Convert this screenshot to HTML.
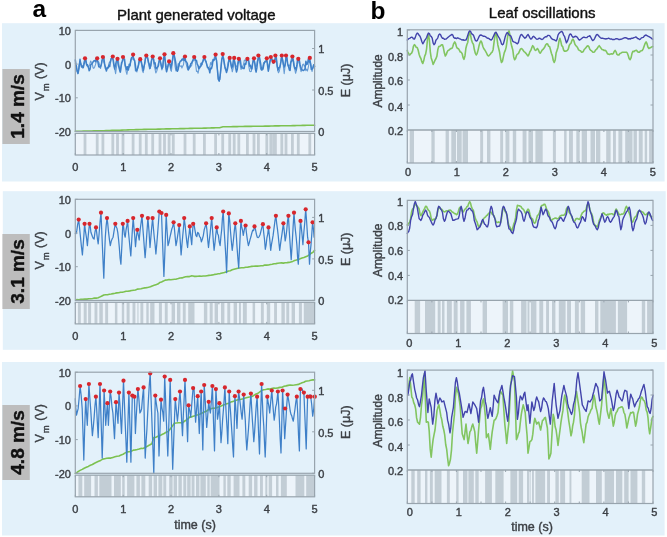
<!DOCTYPE html>
<html><head><meta charset="utf-8"><style>html,body{margin:0;padding:0;background:#fff;width:667px;height:537px;overflow:hidden}</style></head>
<body><svg width="667" height="537" viewBox="0 0 667 537" font-family='"Liberation Sans", sans-serif' style="display:block;filter:blur(0.3px)">
<style>text{stroke-width:0.4px;stroke-linejoin:round}</style>
<rect x="0" y="0" width="667" height="537" fill="#ffffff"/>
<rect x="2" y="23.2" width="662.6" height="158.3" fill="#e3f1fa"/>
<rect x="2.8" y="191.2" width="662.9" height="158.6" fill="#e3f1fa"/>
<rect x="2" y="362" width="662.6" height="173.5" fill="#e3f1fa"/>
<text x="32.5" y="16.8" font-size="24.5" text-anchor="start" fill="#000"  font-weight="bold" >a</text>
<text x="370.4" y="18.8" font-size="24.5" text-anchor="start" fill="#000"  font-weight="bold" >b</text>
<text x="196.3" y="20" font-size="15" text-anchor="middle" fill="#111" stroke="#111" stroke-width="0.3" font-weight="normal" >Plant generated voltage</text>
<text x="542.2" y="18.3" font-size="15" text-anchor="middle" fill="#111" stroke="#111" stroke-width="0.3" font-weight="normal" >Leaf oscillations</text>
<rect x="2.4" y="69" width="27.4" height="75" fill="#bdbdbd"/>
<text transform="translate(23.8,106.5) rotate(-90)" font-size="19" font-weight="bold" text-anchor="middle" fill="#111" stroke="#111">1.4 m/s</text>
<rect x="75.3" y="133.4" width="239.3" height="21.6" fill="#edf4fa"/>
<rect x="83.6" y="133.4" width="2.8" height="21.6" fill="#c2cdd5"/>
<rect x="95.8" y="133.4" width="2.8" height="21.6" fill="#c2cdd5"/>
<rect x="101.5" y="133.4" width="2.8" height="21.6" fill="#c2cdd5"/>
<rect x="111.4" y="133.4" width="2.8" height="21.6" fill="#c2cdd5"/>
<rect x="116.1" y="133.4" width="2.8" height="21.6" fill="#c2cdd5"/>
<rect x="121.6" y="133.4" width="2.8" height="21.6" fill="#c2cdd5"/>
<rect x="131.7" y="133.4" width="2.8" height="21.6" fill="#c2cdd5"/>
<rect x="138.8" y="133.4" width="2.8" height="21.6" fill="#c2cdd5"/>
<rect x="144.9" y="133.4" width="2.8" height="21.6" fill="#c2cdd5"/>
<rect x="151.3" y="133.4" width="2.8" height="21.6" fill="#c2cdd5"/>
<rect x="158.6" y="133.4" width="2.8" height="21.6" fill="#c2cdd5"/>
<rect x="163.1" y="133.4" width="2.8" height="21.6" fill="#c2cdd5"/>
<rect x="167.7" y="133.4" width="2.8" height="21.6" fill="#c2cdd5"/>
<rect x="171.9" y="133.4" width="2.8" height="21.6" fill="#c2cdd5"/>
<rect x="183.6" y="133.4" width="2.8" height="21.6" fill="#c2cdd5"/>
<rect x="192.8" y="133.4" width="2.8" height="21.6" fill="#c2cdd5"/>
<rect x="203" y="133.4" width="2.8" height="21.6" fill="#c2cdd5"/>
<rect x="214.2" y="133.4" width="2.8" height="21.6" fill="#c2cdd5"/>
<rect x="221.3" y="133.4" width="2.8" height="21.6" fill="#c2cdd5"/>
<rect x="228.3" y="133.4" width="2.8" height="21.6" fill="#c2cdd5"/>
<rect x="232.8" y="133.4" width="2.8" height="21.6" fill="#c2cdd5"/>
<rect x="237.4" y="133.4" width="2.8" height="21.6" fill="#c2cdd5"/>
<rect x="246" y="133.4" width="2.8" height="21.6" fill="#c2cdd5"/>
<rect x="252.6" y="133.4" width="2.8" height="21.6" fill="#c2cdd5"/>
<rect x="257" y="133.4" width="2.8" height="21.6" fill="#c2cdd5"/>
<rect x="265.4" y="133.4" width="2.8" height="21.6" fill="#c2cdd5"/>
<rect x="269.4" y="133.4" width="2.8" height="21.6" fill="#c2cdd5"/>
<rect x="272.2" y="133.4" width="2.8" height="21.6" fill="#c2cdd5"/>
<rect x="274" y="133.4" width="2.8" height="21.6" fill="#c2cdd5"/>
<rect x="280.4" y="133.4" width="2.8" height="21.6" fill="#c2cdd5"/>
<rect x="284.6" y="133.4" width="2.8" height="21.6" fill="#c2cdd5"/>
<rect x="291" y="133.4" width="2.8" height="21.6" fill="#c2cdd5"/>
<rect x="296.9" y="133.4" width="2.8" height="21.6" fill="#c2cdd5"/>
<rect x="308.4" y="133.4" width="2.8" height="21.6" fill="#c2cdd5"/>
<polyline points="75.3,131.3 77.4,131.3 79.4,131.2 81.5,131.2 83.5,131.1 85.6,131.1 87.7,131.1 89.7,131 91.8,131 93.8,130.9 95.9,130.9 97.9,130.8 100,130.8 102,130.7 104,130.7 106,130.6 108,130.5 110,130.5 112,130.4 114,130.3 116,130.3 118,130.2 120,130.2 122,130.1 124,130 126,130 128,129.9 130,129.8 132,129.8 134,129.7 136,129.6 138,129.6 140,129.5 142,129.5 144,129.4 146,129.4 148,129.3 150,129.3 152,129.2 154,129.2 156,129.2 158,129.1 160,129.1 162,129 164,129 166,128.9 168,128.9 170,128.9 172,128.8 174,128.8 176,128.7 178,128.7 180,128.6 182,128.6 184,128.6 186,128.5 188,128.5 190,128.4 192,128.4 194,128.3 196,128.3 198,128.2 199.9,128.2 201.9,128.2 203.9,128.1 205.8,128.1 207.8,128 209.8,128 211.7,127.9 213.7,127.9 215.7,127.8 217.6,127.8 219.6,127.7 221.3,127.2 223,126.8 225,126.8 227,126.7 229,126.7 231,126.7 233,126.6 235,126.6 237,126.6 239,126.5 241,126.5 243,126.5 245,126.4 247,126.4 249,126.4 251,126.4 253,126.3 255,126.3 257,126.3 259,126.2 261,126.2 263,126.2 265,126.1 267,126.1 269,126.1 271,126 272.9,126 274.9,125.9 276.9,125.9 278.9,125.9 280.9,125.8 282.9,125.8 284.9,125.8 286.8,125.7 288.8,125.7 290.8,125.7 292.8,125.6 294.8,125.6 296.8,125.5 298.7,125.5 300.7,125.5 302.7,125.4 304.7,125.4 306.7,125.3 308.7,125.3 310.6,125.3 312.6,125.2 314.6,125.2" fill="none" stroke="#7cc150" stroke-width="1.6" stroke-linejoin="round" stroke-linecap="round" />
<polyline points="75.3,63.5 75.9,65.3 76.5,68 77.2,71.6 78,73.8 79,64.9 80,61.4 80.9,63.4 81.7,65.5 82.6,68 83.4,64.9 84.2,60.8 85,58.8 85.7,61.5 86.5,64.8 87.2,66.2 88,66.7 88.8,66.4 89.7,64.7 90.6,61.1 91.4,62.3 92.2,63.4 93,67.7 93.8,68.3 94.6,67 95.4,64.9 96.3,61.6 97.2,60 98,61.5 98.8,62.1 99.7,65.2 100.5,68.5 101.3,65.1 102.1,59.9 102.9,57.7 103.7,62 104.4,63.5 105.2,68.6 105.9,69.5 106.7,68.8 107.5,68.2 108.3,66.4 109.1,62.9 109.9,61.8 110.6,62.5 111.3,58.7 112.1,56.5 112.8,59.6 113.5,59.8 114.2,66.4 114.9,69.7 115.6,73.7 116.6,66.1 117.5,59 118.3,59.8 119,65.6 119.8,69.5 120.6,72.1 121.4,65.8 122.2,62 123,58 123.8,59.9 124.5,62 125.3,66.9 126.1,71.4 126.9,74.3 127.6,69.9 128.3,68.7 129.1,67.2 129.8,66.7 130.6,62.4 131.4,59 132.3,59.2 133.1,58 133.9,58.3 134.6,62 135.4,70.9 136.1,70.9 136.9,72 137.7,68.2 138.6,65.7 139.4,60.4 140.2,61.8 141,61.1 141.7,65.6 142.5,71.1 143.2,72.6 144,67.9 144.8,63 145.5,58.7 146.3,57.1 147.1,58.1 148,61 148.8,65.4 149.6,68.9 150.4,68.1 151.2,61.2 151.9,59.7 152.7,59 153.5,58.3 154.3,66.6 155,68.9 155.8,73 156.6,71.5 157.5,68.7 158.3,63.4 159.2,60.7 160,60.1 160.9,64.3 161.9,69.9 162.8,65.7 163.6,58.9 164.5,53.9 165.2,59.3 165.9,65 166.6,67 167.5,67.8 168.3,65.3 169.1,62.7 169.9,64.1 170.7,70.2 171.4,71.3 172.4,62.3 173.3,54.4 174.2,57.1 175.1,66.6 175.9,71 176.7,68.1 177.4,68.1 178.2,63.5 178.9,65.2 179.7,65.9 180.4,66.2 181.2,65.7 181.9,68 182.7,66.1 183.5,64.8 184.2,58 185,59.4 185.9,62.5 186.8,66.6 187.7,69.5 188.5,66.6 189.2,68.7 190,65.4 190.8,66.2 191.6,65.7 192.5,61.3 193.3,61 194.2,60.2 195,58.8 195.7,64.9 196.5,71.4 197.3,71.1 198.1,73.2 199,68.6 199.9,68 200.7,63.2 201.6,63.8 202.3,64.7 203,60 203.7,58.3 204.4,58.5 205.2,59.2 206.1,61.5 206.9,65.5 207.7,66.8 208.4,69.4 209.2,67.2 209.9,66.6 210.6,62.5 211.4,64.5 212.2,61.1 213.1,61 213.9,59.2 214.8,56.2 215.6,57.6 216.5,60 217.4,69 218.3,79.1 219.2,79.6 220.1,79.4 220.9,68.9 221.8,58.9 222.7,56.8 223.5,56.8 224.3,65 225.1,68.6 225.9,69.9 226.7,70.4 227.4,66.4 228.2,61.9 228.9,61.4 229.7,57.6 230.6,63.6 231.5,67.3 232.3,71.8 233.3,67.3 234.2,59.7 234.9,62.4 235.7,65.8 236.4,66.9 237.2,64.9 238,61 238.8,60.8 239.5,61.3 240.2,64.8 241,69.5 241.7,67.8 242.6,66.4 243.5,64.6 244.3,60.3 245.1,60 245.9,60.7 246.6,59 247.4,59.7 248.2,61 248.9,66.9 249.7,71.3 250.4,71.6 251.3,71.4 252.2,66.2 253.1,60.2 254,61.5 254.9,63.6 255.8,68.1 256.7,64.8 257.5,60.7 258.4,58.5 259.1,60.4 259.9,64.2 260.6,69 261.4,70.2 262.1,70.5 262.9,65.6 263.7,62.5 264.4,63.2 265.2,61.2 266,62 266.8,60.7 267.7,63.3 268.5,70.4 269.3,64.4 270,61.2 270.8,58.1 271.5,58.1 272.2,59 272.9,63.5 273.6,61.1 274.5,60.3 275.4,58.8 276.2,57.9 277,63.7 277.8,70.9 278.5,72.8 279.4,71 280.2,66.1 281,58 281.8,56.2 282.6,60 283.4,66.5 284.2,73.7 285.1,65.7 286,57.9 286.9,57.3 287.8,65.3 288.7,67.2 289.5,65.3 290.2,64.4 290.9,60.7 291.7,57.7 292.4,56.4 293.2,59 294,63.3 294.8,69.5 295.6,73.3 296.5,70.1 297.4,64.7 298.3,61.1 299,60.9 299.7,65.6 300.4,68.8 301.1,71.7 301.9,68.9 302.7,64.4 303.5,64.1 304.2,66.2 305,65.3 305.8,70.6 306.6,69.2 307.4,71 308.2,67.8 309,63.5 309.8,61.2 310.5,63 311.3,66.7 312,71.5 312.9,67.8 313.7,64.5 314.6,65.6" fill="none" stroke="#3f80c8" stroke-width="1.1" stroke-linejoin="round" stroke-linecap="round" opacity="0.75"/>
<polyline points="75.3,59.9 75.9,64.2 76.5,66.9 77.2,71.3 78,73.4 79,68.5 80,59.3 80.8,63.8 81.5,66.9 82.3,66 83.2,67.7 84.1,64.1 85,59.8 85.8,59.2 86.7,65 87.5,64.8 88.4,67.4 89.2,70.7 90,69.4 90.8,64.6 91.6,64.1 92.4,63.1 93.2,61.7 94,60.7 94.8,60.6 95.6,61.8 96.4,57.7 97.2,59.8 98,62.5 98.8,66.8 99.6,67.1 100.4,67.1 101.3,64.6 102.1,60.2 102.9,58.5 103.8,57.4 104.7,64.8 105.5,67.3 106.4,71 107.3,67.8 108.1,68 108.9,65.2 109.7,66.6 110.4,61.4 111.2,58.4 112,58.2 112.8,58 113.8,64.8 114.7,69 115.6,64.5 116.6,60.3 117.5,60.3 118.4,65.1 119.3,68.8 120.2,72.1 120.9,67.2 121.6,62.6 122.3,61.3 123,58.5 123.8,58.8 124.5,59 125.3,65.9 126.1,67 126.8,69.7 127.6,66.8 128.4,70 129.2,64.3 130,65.7 130.7,60.8 131.5,57.7 132.3,57 133.1,56.1 133.8,59.7 134.6,60.3 135.3,64.5 136,70.4 136.8,70.4 137.6,68.2 138.5,64.5 139.3,60.1 140.2,60.7 141,60.4 141.8,63.9 142.5,66.8 143.3,70.3 144.1,66.2 144.8,63 145.6,57.1 146.3,57 147,57.2 147.8,58.1 148.5,62.4 149.2,63.8 150,68.4 150.9,65.2 151.8,58.8 152.7,58 153.5,58.9 154.3,63.8 155.1,62.9 155.9,69 156.7,68.1 157.5,67.2 158.4,65.8 159.2,60.5 160,59.8 160.9,63.7 161.9,68.5 162.8,67.1 163.6,58 164.5,55.8 165.2,61.3 165.9,68.3 166.6,71.8 167.4,68.6 168.3,64.2 169.1,62.9 170,64.2 170.9,68.1 171.7,64 172.5,59.7 173.3,54.7 174.1,54.9 174.9,58.1 175.7,62.3 176.6,69.8 177.4,71.3 178.1,69.6 178.9,65.6 179.6,62.8 180.4,61 181.2,61 181.9,59.2 182.7,59.9 183.5,57.9 184.2,60.6 185,58 185.8,61.4 186.6,62 187.4,63.8 188.3,70.1 189.1,67.9 189.9,67.4 190.8,63.7 191.6,63.1 192.5,61 193.3,59.2 194.2,58.5 195,57.6 195.7,60.6 196.5,60.4 197.2,64.2 198,65.5 198.8,68.7 199.5,67.4 200.3,66.6 201.1,65.9 202,62.8 202.8,61.7 203.6,59.4 204.4,58.5 205.2,60.3 205.9,61.5 206.7,64.2 207.5,67.6 208.2,67.6 209,68.9 209.8,72.8 210.6,67.9 211.4,68.8 212.3,65.5 213.1,59.4 213.9,60.5 214.8,58.8 215.6,56.1 216.5,60.4 217.4,69.8 218.3,79.1 219.2,81.2 220.1,75.6 220.9,68.5 221.8,59.4 222.7,55.6 223.5,58.7 224.2,62.3 225,67 225.7,69.5 226.5,72.5 227.3,69.8 228.1,65.9 228.9,59.7 229.7,59.4 230.7,62.3 231.7,68 232.5,66.6 233.4,60 234.2,59.4 235,64.1 235.8,68.7 236.5,72 237.3,69.2 238,64 238.8,60.3 239.6,60.8 240.3,59.9 241.1,65.9 241.8,67.6 242.6,67.9 243.3,68.6 244.1,68.5 245,63.5 245.8,64.3 246.6,59.8 247.4,60.3 248.2,58.9 248.9,61.6 249.7,66.2 250.4,65.4 251.2,68.8 251.9,68.8 252.6,63.7 253.3,60.4 254,59.8 254.7,62.4 255.4,69 256.1,72.1 256.9,67.9 257.6,61.2 258.4,57 259.2,56.1 259.9,59.5 260.7,63.9 261.5,69.5 262.3,68.5 263,69.1 263.8,64.6 264.5,62.4 265.3,61.1 266,61.3 266.8,59.8 267.6,66 268.3,71.2 269.2,66.3 270,61.5 270.8,58.5 271.5,59 272.2,60.6 272.9,60.5 273.6,63.1 274.5,62 275.4,57 276.3,57.4 277.1,65.8 278,70.2 278.9,67.5 279.6,67.8 280.3,65 281.1,61.2 281.8,57 282.6,59.6 283.5,64.5 284.3,67.1 285.1,65 286,57 286.8,57.5 287.7,63.9 288.5,66.3 289.4,70.1 290.1,70.5 290.9,62.1 291.6,61.4 292.4,58 293.2,59.7 293.9,65.6 294.7,68.6 295.4,67.9 296.1,70 296.9,64.7 297.6,59.2 298.3,60.3 299.1,58.9 300,64.2 300.8,67.6 301.7,69.7 302.5,70 303.3,70.6 304,70.1 305,69 305.9,61.2 306.7,64.5 307.5,63.9 308.3,59 309,61.9 309.8,59.4 310.5,63.1 311.3,69.4 312,68.9 312.9,67.9 313.7,65 314.6,66.5" fill="none" stroke="#3f80c8" stroke-width="1.5" stroke-linejoin="round" stroke-linecap="round" />
<circle cx="85" cy="58.3" r="2.1" fill="#d8262c"/>
<circle cx="97.2" cy="58.3" r="2.1" fill="#d8262c"/>
<circle cx="102.9" cy="57" r="2.1" fill="#d8262c"/>
<circle cx="112.8" cy="56.5" r="2.1" fill="#d8262c"/>
<circle cx="117.5" cy="58.8" r="2.1" fill="#d8262c"/>
<circle cx="123" cy="57" r="2.1" fill="#d8262c"/>
<circle cx="133.1" cy="54.6" r="2.1" fill="#d8262c"/>
<circle cx="140.2" cy="59.2" r="2.1" fill="#d8262c"/>
<circle cx="146.3" cy="55.5" r="2.1" fill="#d8262c"/>
<circle cx="152.7" cy="56.5" r="2.1" fill="#d8262c"/>
<circle cx="160" cy="58.3" r="2.1" fill="#d8262c"/>
<circle cx="164.5" cy="54.3" r="2.1" fill="#d8262c"/>
<circle cx="169.1" cy="61.4" r="2.1" fill="#d8262c"/>
<circle cx="173.3" cy="53.2" r="2.1" fill="#d8262c"/>
<circle cx="185" cy="56.5" r="2.1" fill="#d8262c"/>
<circle cx="194.2" cy="57" r="2.1" fill="#d8262c"/>
<circle cx="204.4" cy="57" r="2.1" fill="#d8262c"/>
<circle cx="215.6" cy="54.6" r="2.1" fill="#d8262c"/>
<circle cx="222.7" cy="54.1" r="2.1" fill="#d8262c"/>
<circle cx="229.7" cy="57.9" r="2.1" fill="#d8262c"/>
<circle cx="234.2" cy="57.9" r="2.1" fill="#d8262c"/>
<circle cx="238.8" cy="58.8" r="2.1" fill="#d8262c"/>
<circle cx="247.4" cy="58.8" r="2.1" fill="#d8262c"/>
<circle cx="254" cy="58.3" r="2.1" fill="#d8262c"/>
<circle cx="258.4" cy="55.5" r="2.1" fill="#d8262c"/>
<circle cx="266.8" cy="58.3" r="2.1" fill="#d8262c"/>
<circle cx="270.8" cy="57" r="2.1" fill="#d8262c"/>
<circle cx="273.6" cy="61.6" r="2.1" fill="#d8262c"/>
<circle cx="275.4" cy="55.5" r="2.1" fill="#d8262c"/>
<circle cx="281.8" cy="55.5" r="2.1" fill="#d8262c"/>
<circle cx="286" cy="55.5" r="2.1" fill="#d8262c"/>
<circle cx="292.4" cy="56.5" r="2.1" fill="#d8262c"/>
<circle cx="298.3" cy="58.8" r="2.1" fill="#d8262c"/>
<circle cx="309.8" cy="57.9" r="2.1" fill="#d8262c"/>
<rect x="75.3" y="30.4" width="239.3" height="101.1" fill="none" stroke="#98a4ad" stroke-width="1.2"/>
<rect x="75.3" y="133.4" width="239.3" height="21.6" fill="none" stroke="#98a4ad" stroke-width="1.2"/>
<line x1="75.3" y1="30.4" x2="77.8" y2="30.4" stroke="#98a4ad" stroke-width="1"/>
<line x1="75.3" y1="64.1" x2="77.8" y2="64.1" stroke="#98a4ad" stroke-width="1"/>
<line x1="75.3" y1="97.8" x2="77.8" y2="97.8" stroke="#98a4ad" stroke-width="1"/>
<line x1="75.3" y1="131.5" x2="77.8" y2="131.5" stroke="#98a4ad" stroke-width="1"/>
<line x1="312.1" y1="131.5" x2="314.6" y2="131.5" stroke="#98a4ad" stroke-width="1"/>
<line x1="312.1" y1="90" x2="314.6" y2="90" stroke="#98a4ad" stroke-width="1"/>
<line x1="312.1" y1="48.5" x2="314.6" y2="48.5" stroke="#98a4ad" stroke-width="1"/>
<line x1="75.3" y1="133.4" x2="75.3" y2="135.4" stroke="#98a4ad" stroke-width="1"/>
<line x1="75.3" y1="153" x2="75.3" y2="155" stroke="#98a4ad" stroke-width="1"/>
<line x1="123.2" y1="133.4" x2="123.2" y2="135.4" stroke="#98a4ad" stroke-width="1"/>
<line x1="123.2" y1="153" x2="123.2" y2="155" stroke="#98a4ad" stroke-width="1"/>
<line x1="171" y1="133.4" x2="171" y2="135.4" stroke="#98a4ad" stroke-width="1"/>
<line x1="171" y1="153" x2="171" y2="155" stroke="#98a4ad" stroke-width="1"/>
<line x1="218.9" y1="133.4" x2="218.9" y2="135.4" stroke="#98a4ad" stroke-width="1"/>
<line x1="218.9" y1="153" x2="218.9" y2="155" stroke="#98a4ad" stroke-width="1"/>
<line x1="266.7" y1="133.4" x2="266.7" y2="135.4" stroke="#98a4ad" stroke-width="1"/>
<line x1="266.7" y1="153" x2="266.7" y2="155" stroke="#98a4ad" stroke-width="1"/>
<line x1="314.6" y1="133.4" x2="314.6" y2="135.4" stroke="#98a4ad" stroke-width="1"/>
<line x1="314.6" y1="153" x2="314.6" y2="155" stroke="#98a4ad" stroke-width="1"/>
<text x="71" y="35" font-size="11" text-anchor="end" fill="#3d4146" stroke="#3d4146" stroke-width="0.4" font-weight="normal" >10</text>
<text x="71" y="68.6" font-size="11" text-anchor="end" fill="#3d4146" stroke="#3d4146" stroke-width="0.4" font-weight="normal" >0</text>
<text x="71" y="102.4" font-size="11" text-anchor="end" fill="#3d4146" stroke="#3d4146" stroke-width="0.4" font-weight="normal" >-10</text>
<text x="71" y="136" font-size="11" text-anchor="end" fill="#3d4146" stroke="#3d4146" stroke-width="0.4" font-weight="normal" >-20</text>
<text x="318.2" y="136.3" font-size="11" text-anchor="start" fill="#3d4146" stroke="#3d4146" stroke-width="0.4" font-weight="normal" >0</text>
<text x="318.2" y="94.9" font-size="11" text-anchor="start" fill="#3d4146" stroke="#3d4146" stroke-width="0.4" font-weight="normal" >0.5</text>
<text x="318.2" y="53.4" font-size="11" text-anchor="start" fill="#3d4146" stroke="#3d4146" stroke-width="0.4" font-weight="normal" >1</text>
<text x="75.3" y="171.3" font-size="11" text-anchor="middle" fill="#3d4146" stroke="#3d4146" stroke-width="0.4" font-weight="normal" >0</text>
<text x="123.2" y="171.3" font-size="11" text-anchor="middle" fill="#3d4146" stroke="#3d4146" stroke-width="0.4" font-weight="normal" >1</text>
<text x="171" y="171.3" font-size="11" text-anchor="middle" fill="#3d4146" stroke="#3d4146" stroke-width="0.4" font-weight="normal" >2</text>
<text x="218.9" y="171.3" font-size="11" text-anchor="middle" fill="#3d4146" stroke="#3d4146" stroke-width="0.4" font-weight="normal" >3</text>
<text x="266.7" y="171.3" font-size="11" text-anchor="middle" fill="#3d4146" stroke="#3d4146" stroke-width="0.4" font-weight="normal" >4</text>
<text x="314.6" y="171.3" font-size="11" text-anchor="middle" fill="#3d4146" stroke="#3d4146" stroke-width="0.4" font-weight="normal" >5</text>
<text transform="translate(44.3,100.6) rotate(-90)" font-size="12.5" fill="#3d4146" stroke="#3d4146">V<tspan font-size="9.5" dx="0.9" dy="5">m</tspan><tspan dy="-5" dx="0.9"> (V)</tspan></text>
<text transform="translate(349.6,80.4) rotate(-90)" font-size="12.5" text-anchor="middle" fill="#3d4146" stroke="#3d4146">E (μJ)</text>
<rect x="2.4" y="234" width="27.4" height="75" fill="#bdbdbd"/>
<text transform="translate(23.8,271.5) rotate(-90)" font-size="19" font-weight="bold" text-anchor="middle" fill="#111" stroke="#111">3.1 m/s</text>
<rect x="75.3" y="302.3" width="239.3" height="21.6" fill="#edf4fa"/>
<rect x="77.9" y="302.3" width="2.9" height="21.6" fill="#c2cdd5"/>
<rect x="83.7" y="302.3" width="3" height="21.6" fill="#c2cdd5"/>
<rect x="88.1" y="302.3" width="3" height="21.6" fill="#c2cdd5"/>
<rect x="94.5" y="302.3" width="2.9" height="21.6" fill="#c2cdd5"/>
<rect x="99.3" y="302.3" width="3.5" height="21.6" fill="#c2cdd5"/>
<rect x="105.2" y="302.3" width="2.9" height="21.6" fill="#c2cdd5"/>
<rect x="114.9" y="302.3" width="2.5" height="21.6" fill="#c2cdd5"/>
<rect x="121.8" y="302.3" width="2.4" height="21.6" fill="#c2cdd5"/>
<rect x="126.6" y="302.3" width="3" height="21.6" fill="#c2cdd5"/>
<rect x="132.5" y="302.3" width="2.9" height="21.6" fill="#c2cdd5"/>
<rect x="137.4" y="302.3" width="1.1" height="21.6" fill="#c2cdd5"/>
<rect x="140.4" y="302.3" width="2.9" height="21.6" fill="#c2cdd5"/>
<rect x="146.3" y="302.3" width="2.4" height="21.6" fill="#c2cdd5"/>
<rect x="150.2" y="302.3" width="4.3" height="21.6" fill="#c2cdd5"/>
<rect x="158.9" y="302.3" width="3" height="21.6" fill="#c2cdd5"/>
<rect x="164.8" y="302.3" width="2.9" height="21.6" fill="#c2cdd5"/>
<rect x="171.6" y="302.3" width="3.4" height="21.6" fill="#c2cdd5"/>
<rect x="177" y="302.3" width="3.4" height="21.6" fill="#c2cdd5"/>
<rect x="182.8" y="302.3" width="2.9" height="21.6" fill="#c2cdd5"/>
<rect x="188.2" y="302.3" width="6.3" height="21.6" fill="#c2cdd5"/>
<rect x="203.9" y="302.3" width="3.4" height="21.6" fill="#c2cdd5"/>
<rect x="209.7" y="302.3" width="3" height="21.6" fill="#c2cdd5"/>
<rect x="214.6" y="302.3" width="3.4" height="21.6" fill="#c2cdd5"/>
<rect x="221" y="302.3" width="3.4" height="21.6" fill="#c2cdd5"/>
<rect x="227.3" y="302.3" width="2.9" height="21.6" fill="#c2cdd5"/>
<rect x="233.6" y="302.3" width="3.4" height="21.6" fill="#c2cdd5"/>
<rect x="239" y="302.3" width="1.9" height="21.6" fill="#c2cdd5"/>
<rect x="242.9" y="302.3" width="3.9" height="21.6" fill="#c2cdd5"/>
<rect x="252.6" y="302.3" width="2.5" height="21.6" fill="#c2cdd5"/>
<rect x="260.9" y="302.3" width="2.9" height="21.6" fill="#c2cdd5"/>
<rect x="266.8" y="302.3" width="3.4" height="21.6" fill="#c2cdd5"/>
<rect x="274.1" y="302.3" width="2.9" height="21.6" fill="#c2cdd5"/>
<rect x="281.4" y="302.3" width="3.4" height="21.6" fill="#c2cdd5"/>
<rect x="286.3" y="302.3" width="2.9" height="21.6" fill="#c2cdd5"/>
<rect x="291.6" y="302.3" width="3.4" height="21.6" fill="#c2cdd5"/>
<rect x="298.9" y="302.3" width="3" height="21.6" fill="#c2cdd5"/>
<rect x="303.8" y="302.3" width="10.8" height="21.6" fill="#c2cdd5"/>
<polyline points="76.8,299.6 78.8,299.7 80.8,299.4 82.8,299.3 84.9,299.1 86.9,299.1 88.9,298.7 90.8,298.7 92.6,298.5 94.5,298 96.3,298.1 98.2,297.8 100.1,296.9 101.9,296 103.8,295 105.7,294.7 107.5,294.7 109.4,294.3 111.2,294 113.1,293.6 115,293.3 116.8,292.9 118.7,292.8 120.6,292.2 122.4,292.2 124.3,291.8 126.1,291.3 128,291.2 129.9,290.9 131.7,290.5 133.6,290.2 135.5,290 137.3,289.1 139.2,289 141,288.8 142.9,288.2 144.8,287.9 146.6,287.6 148.5,287.2 150.4,286.7 152.2,285.9 154.1,285.3 155.9,284.7 157.8,284.1 159.7,282.6 161.5,281.9 163.4,281.1 165.2,280.1 167.1,280 169,279.5 170.8,279.7 172.7,279.5 174.6,279.3 176.4,279.1 178.3,278.6 180.1,278 182,277.9 183.9,277.2 185.7,276.7 187.6,276.5 189.5,276.6 191.3,275.9 193.2,276 194,276.4 195.9,276.4 197.7,276.3 199.6,276.1 201.4,276.3 203.3,276 205.2,276 207,275.7 208.9,275.4 210.8,275.3 212.6,274.9 214.5,274.4 216.3,274.2 218.2,273.8 220.1,273.6 222.2,273 224.4,272.5 226.6,271.7 228.5,271 230.3,270.7 232.2,269.8 234,269.3 235.9,268.8 237.8,268.3 239.6,268 241.7,267.7 243.7,267.7 245.8,267.3 247.8,267.1 249.9,266.7 251.7,266.4 253.6,266.2 255.5,266.1 257.3,266.1 259.2,266 261,265.7 262.9,265.7 264.8,265 266.6,265.1 268.5,265 270.4,264.5 272.2,264.2 274.1,263.7 275.9,263.6 277.8,263.2 279.7,263 281.5,262.9 283.4,263.1 285.2,262.7 287.1,262.6 289,262.4 290.8,261.9 292.7,261.4 294.6,260.5 296.4,260 298.3,259.4 300.1,258.8 302,258.1 303.9,257.5 305.7,256.7 307.6,255.9 309.5,254.7 311.3,253.2 313.2,252.1 314.6,250.3" fill="none" stroke="#7cc150" stroke-width="1.6" stroke-linejoin="round" stroke-linecap="round" />
<polyline points="75.3,233.5 75.9,233.7 76.8,230.7 77.7,224.1 78.7,219.6 79.6,228.2 80.5,237.2 81.4,246.2 82.4,254.9 83.1,245.6 83.9,235.2 84.6,223.8 85.5,231.7 86.5,237.8 87.4,245.6 88.4,234 89.5,223.8 90.2,226 90.9,232.3 91.7,234.5 92.5,236.7 93.3,238.5 94.1,239.1 95,231.9 96,227.4 96.7,232.6 97.5,239.4 98.2,243.8 99.1,233.7 100.1,221.5 101,212.7 101.9,234.4 102.9,257.9 103.8,278.2 104.5,256.7 105.3,237.2 106.1,226.4 107,218.1 107.8,224.2 108.6,232.7 109.5,240.1 110.3,245.6 111.2,241.4 112.2,238.7 113.1,237.2 113.9,231.8 114.6,227.6 115.3,223.8 116.1,226.8 117,228.3 117.8,232.6 118.6,239.8 119.3,247.2 120.1,258.2 120.9,264.2 121.9,245 122.8,223.8 123.6,226.7 124.4,234.6 125.2,237.2 126,230.2 126.8,225.9 127.6,220.9 128.4,231.5 129.2,239.5 130,248 130.8,255.9 131.6,243 132.4,229.4 133.2,218.1 134,228.1 134.7,235.5 135.5,246.6 136.4,237 137.3,229.8 138.2,234.5 139.2,240 140.1,230.1 141,223.5 142,215.8 142.8,227.5 143.6,237.6 144.3,247.3 145.1,257.7 146.1,245 147,231.1 147.9,218.1 149,231.3 150,247.5 150.8,238.1 151.7,227.5 152.6,218.1 153.4,228 154.3,237.7 155.1,244.7 155.9,254 156.8,243.7 157.6,233.8 158.5,221.8 159.3,211.5 160,211 160.8,213.4 161.5,213 162.3,235.7 163.1,256.3 163.9,276.4 164.7,256.7 165.4,236.8 166.2,214.9 167.1,231 168,245.6 169,242.2 169.9,237.4 170.8,233.5 171.8,229 172.7,226.6 173.6,222.3 174.4,228.5 175.2,237.5 176,245.6 176.8,241.6 177.6,236.2 178.4,230.8 179.2,225.1 180.1,239 181.1,254.9 181.9,245.4 182.7,236.3 183.5,227.8 184.2,218.1 185.1,225.1 185.9,233.5 186.8,241.9 187.6,247.5 188.3,239.2 189.1,234.1 189.8,226.4 190.8,236.7 191.7,244.7 192.4,233.8 193.2,223.8 194,224.2 194.9,229.8 195.9,235.4 196.8,236.7 197.7,232.3 198.7,233.5 199.6,236.5 200.5,237.7 201.4,241.9 202.4,239 203.3,235.6 204.2,229.8 205.2,226.6 206.1,223.3 206.9,229.8 207.7,239.7 208.5,247.5 209.3,240.3 210.1,233.6 210.9,225.5 211.7,218.1 212.5,229.4 213.3,240.9 214.1,250.3 215,242.7 215.8,234.7 216.7,227.4 217.6,233.7 218.4,235.3 219.2,241.8 220.1,245.6 220.9,236.7 221.7,229.6 222.4,218.6 223.2,211.5 224.1,228.8 224.9,241.5 225.8,255.6 226.6,272.6 227.3,252 228.1,232.7 228.8,213.4 229.7,220.7 230.5,231.5 231.3,240.7 232.2,250.3 233,244.3 233.8,236.2 234.5,229.1 235.3,223.3 236.2,233.3 237,246.6 237.9,258.6 238.7,268 239.4,252.4 240.2,235.4 240.9,220.9 241.7,226.9 242.5,230.1 243.3,235.4 244.1,230.9 244.8,227.3 245.6,225.5 246.5,233.3 247.4,240.2 248.4,245.6 249.2,243.1 250.1,239.4 250.9,236.8 251.7,233.5 252.7,230.1 253.6,230.7 254.5,226.4 255.5,229.5 256.4,234.2 257.3,237.2 258.2,237.6 259.2,236.6 260.1,234.5 261,230.9 262,226.8 262.9,224.2 263.7,232.8 264.5,239.5 265.3,249.3 266.1,245.2 266.9,237.8 267.7,234.3 268.5,227.4 269.2,234.1 270,242.1 270.7,250.3 271.5,244.3 272.3,240.1 273.1,235.4 274.1,227.6 275,220.4 275.9,215.8 276.7,223.6 277.4,228.7 278.2,235.5 278.9,242.6 279.7,250.3 280.4,244.8 281.2,239.2 281.9,234.6 282.6,229.3 283.4,223.3 284.3,231.6 285.2,241 286,236.4 286.8,229.8 287.6,220.3 288.4,215.8 289.3,231.7 290.3,246.6 291.2,259.6 292.1,245.1 293.1,226.9 294,212.7 294.7,222.6 295.4,230.4 296.1,236.5 296.9,245.1 297.6,257.5 298.3,264.2 299,250.4 299.8,234.3 300.5,220.9 301.3,227.2 302.1,235.3 302.9,244.7 303.9,231.8 304.8,222.2 305.7,209.3 306.7,222.7 307.6,237.2 308.5,242.3 309.5,264.2 310.2,252.4 311,244.9 311.8,234 312.6,222.3 313.4,228.5 314.1,237.2" fill="none" stroke="#3f80c8" stroke-width="1.25" stroke-linejoin="round" stroke-linecap="round" />
<circle cx="78.7" cy="219.6" r="2.1" fill="#d8262c"/>
<circle cx="84.6" cy="223.8" r="2.1" fill="#d8262c"/>
<circle cx="89.5" cy="223.8" r="2.1" fill="#d8262c"/>
<circle cx="96" cy="227.4" r="2.1" fill="#d8262c"/>
<circle cx="101" cy="212.7" r="2.1" fill="#d8262c"/>
<circle cx="107" cy="218.1" r="2.1" fill="#d8262c"/>
<circle cx="115.3" cy="223.8" r="2.1" fill="#d8262c"/>
<circle cx="122.8" cy="223.8" r="2.1" fill="#d8262c"/>
<circle cx="127.6" cy="220.9" r="2.1" fill="#d8262c"/>
<circle cx="133.2" cy="218.1" r="2.1" fill="#d8262c"/>
<circle cx="137.3" cy="229.8" r="2.1" fill="#d8262c"/>
<circle cx="142" cy="215.8" r="2.1" fill="#d8262c"/>
<circle cx="147.9" cy="218.1" r="2.1" fill="#d8262c"/>
<circle cx="152.6" cy="218.1" r="2.1" fill="#d8262c"/>
<circle cx="159.3" cy="211.5" r="2.1" fill="#d8262c"/>
<circle cx="161.5" cy="213" r="2.1" fill="#d8262c"/>
<circle cx="166.2" cy="214.9" r="2.1" fill="#d8262c"/>
<circle cx="173.6" cy="222.3" r="2.1" fill="#d8262c"/>
<circle cx="179.2" cy="225.1" r="2.1" fill="#d8262c"/>
<circle cx="184.2" cy="218.1" r="2.1" fill="#d8262c"/>
<circle cx="189.8" cy="226.4" r="2.1" fill="#d8262c"/>
<circle cx="193.2" cy="223.8" r="2.1" fill="#d8262c"/>
<circle cx="206.1" cy="223.3" r="2.1" fill="#d8262c"/>
<circle cx="211.7" cy="218.1" r="2.1" fill="#d8262c"/>
<circle cx="216.7" cy="227.4" r="2.1" fill="#d8262c"/>
<circle cx="223.2" cy="211.5" r="2.1" fill="#d8262c"/>
<circle cx="228.8" cy="213.4" r="2.1" fill="#d8262c"/>
<circle cx="235.3" cy="223.3" r="2.1" fill="#d8262c"/>
<circle cx="240.9" cy="220.9" r="2.1" fill="#d8262c"/>
<circle cx="245.6" cy="225.5" r="2.1" fill="#d8262c"/>
<circle cx="254.5" cy="226.4" r="2.1" fill="#d8262c"/>
<circle cx="262.9" cy="224.2" r="2.1" fill="#d8262c"/>
<circle cx="268.5" cy="227.4" r="2.1" fill="#d8262c"/>
<circle cx="275.9" cy="215.8" r="2.1" fill="#d8262c"/>
<circle cx="283.4" cy="223.3" r="2.1" fill="#d8262c"/>
<circle cx="288.4" cy="215.8" r="2.1" fill="#d8262c"/>
<circle cx="294" cy="212.7" r="2.1" fill="#d8262c"/>
<circle cx="300.5" cy="220.9" r="2.1" fill="#d8262c"/>
<circle cx="305.7" cy="209.3" r="2.1" fill="#d8262c"/>
<circle cx="308.5" cy="242.3" r="2.1" fill="#d8262c"/>
<circle cx="312.6" cy="222.3" r="2.1" fill="#d8262c"/>
<rect x="75.3" y="199.3" width="239.3" height="101.1" fill="none" stroke="#98a4ad" stroke-width="1.2"/>
<rect x="75.3" y="302.3" width="239.3" height="21.6" fill="none" stroke="#98a4ad" stroke-width="1.2"/>
<line x1="75.3" y1="199.3" x2="77.8" y2="199.3" stroke="#98a4ad" stroke-width="1"/>
<line x1="75.3" y1="233" x2="77.8" y2="233" stroke="#98a4ad" stroke-width="1"/>
<line x1="75.3" y1="266.7" x2="77.8" y2="266.7" stroke="#98a4ad" stroke-width="1"/>
<line x1="75.3" y1="300.4" x2="77.8" y2="300.4" stroke="#98a4ad" stroke-width="1"/>
<line x1="312.1" y1="300.4" x2="314.6" y2="300.4" stroke="#98a4ad" stroke-width="1"/>
<line x1="312.1" y1="258.9" x2="314.6" y2="258.9" stroke="#98a4ad" stroke-width="1"/>
<line x1="312.1" y1="217.4" x2="314.6" y2="217.4" stroke="#98a4ad" stroke-width="1"/>
<line x1="75.3" y1="302.3" x2="75.3" y2="304.3" stroke="#98a4ad" stroke-width="1"/>
<line x1="75.3" y1="321.9" x2="75.3" y2="323.9" stroke="#98a4ad" stroke-width="1"/>
<line x1="123.2" y1="302.3" x2="123.2" y2="304.3" stroke="#98a4ad" stroke-width="1"/>
<line x1="123.2" y1="321.9" x2="123.2" y2="323.9" stroke="#98a4ad" stroke-width="1"/>
<line x1="171" y1="302.3" x2="171" y2="304.3" stroke="#98a4ad" stroke-width="1"/>
<line x1="171" y1="321.9" x2="171" y2="323.9" stroke="#98a4ad" stroke-width="1"/>
<line x1="218.9" y1="302.3" x2="218.9" y2="304.3" stroke="#98a4ad" stroke-width="1"/>
<line x1="218.9" y1="321.9" x2="218.9" y2="323.9" stroke="#98a4ad" stroke-width="1"/>
<line x1="266.7" y1="302.3" x2="266.7" y2="304.3" stroke="#98a4ad" stroke-width="1"/>
<line x1="266.7" y1="321.9" x2="266.7" y2="323.9" stroke="#98a4ad" stroke-width="1"/>
<line x1="314.6" y1="302.3" x2="314.6" y2="304.3" stroke="#98a4ad" stroke-width="1"/>
<line x1="314.6" y1="321.9" x2="314.6" y2="323.9" stroke="#98a4ad" stroke-width="1"/>
<text x="71" y="203.8" font-size="11" text-anchor="end" fill="#3d4146" stroke="#3d4146" stroke-width="0.4" font-weight="normal" >10</text>
<text x="71" y="237.5" font-size="11" text-anchor="end" fill="#3d4146" stroke="#3d4146" stroke-width="0.4" font-weight="normal" >0</text>
<text x="71" y="271.2" font-size="11" text-anchor="end" fill="#3d4146" stroke="#3d4146" stroke-width="0.4" font-weight="normal" >-10</text>
<text x="71" y="304.9" font-size="11" text-anchor="end" fill="#3d4146" stroke="#3d4146" stroke-width="0.4" font-weight="normal" >-20</text>
<text x="318.2" y="305.2" font-size="11" text-anchor="start" fill="#3d4146" stroke="#3d4146" stroke-width="0.4" font-weight="normal" >0</text>
<text x="318.2" y="263.7" font-size="11" text-anchor="start" fill="#3d4146" stroke="#3d4146" stroke-width="0.4" font-weight="normal" >0.5</text>
<text x="318.2" y="222.2" font-size="11" text-anchor="start" fill="#3d4146" stroke="#3d4146" stroke-width="0.4" font-weight="normal" >1</text>
<text x="75.3" y="340.2" font-size="11" text-anchor="middle" fill="#3d4146" stroke="#3d4146" stroke-width="0.4" font-weight="normal" >0</text>
<text x="123.2" y="340.2" font-size="11" text-anchor="middle" fill="#3d4146" stroke="#3d4146" stroke-width="0.4" font-weight="normal" >1</text>
<text x="171" y="340.2" font-size="11" text-anchor="middle" fill="#3d4146" stroke="#3d4146" stroke-width="0.4" font-weight="normal" >2</text>
<text x="218.9" y="340.2" font-size="11" text-anchor="middle" fill="#3d4146" stroke="#3d4146" stroke-width="0.4" font-weight="normal" >3</text>
<text x="266.7" y="340.2" font-size="11" text-anchor="middle" fill="#3d4146" stroke="#3d4146" stroke-width="0.4" font-weight="normal" >4</text>
<text x="314.6" y="340.2" font-size="11" text-anchor="middle" fill="#3d4146" stroke="#3d4146" stroke-width="0.4" font-weight="normal" >5</text>
<text transform="translate(44.3,269.5) rotate(-90)" font-size="12.5" fill="#3d4146" stroke="#3d4146">V<tspan font-size="9.5" dx="0.9" dy="5">m</tspan><tspan dy="-5" dx="0.9"> (V)</tspan></text>
<text transform="translate(349.6,249.3) rotate(-90)" font-size="12.5" text-anchor="middle" fill="#3d4146" stroke="#3d4146">E (μJ)</text>
<rect x="2.4" y="405" width="27.4" height="75" fill="#bdbdbd"/>
<text transform="translate(23.8,442.5) rotate(-90)" font-size="19" font-weight="bold" text-anchor="middle" fill="#111" stroke="#111">4.8 m/s</text>
<rect x="75.3" y="475.2" width="239.3" height="21.6" fill="#edf4fa"/>
<rect x="75.3" y="475.2" width="0.7" height="21.6" fill="#c2cdd5"/>
<rect x="78.4" y="475.2" width="3.9" height="21.6" fill="#c2cdd5"/>
<rect x="84.2" y="475.2" width="6.9" height="21.6" fill="#c2cdd5"/>
<rect x="94.5" y="475.2" width="3.4" height="21.6" fill="#c2cdd5"/>
<rect x="99.3" y="475.2" width="12.2" height="21.6" fill="#c2cdd5"/>
<rect x="114" y="475.2" width="6.8" height="21.6" fill="#c2cdd5"/>
<rect x="122.2" y="475.2" width="2.5" height="21.6" fill="#c2cdd5"/>
<rect x="127.1" y="475.2" width="7.3" height="21.6" fill="#c2cdd5"/>
<rect x="136.4" y="475.2" width="3.5" height="21.6" fill="#c2cdd5"/>
<rect x="141.4" y="475.2" width="3.9" height="21.6" fill="#c2cdd5"/>
<rect x="148.7" y="475.2" width="3.4" height="21.6" fill="#c2cdd5"/>
<rect x="153.6" y="475.2" width="3.4" height="21.6" fill="#c2cdd5"/>
<rect x="158.4" y="475.2" width="3.9" height="21.6" fill="#c2cdd5"/>
<rect x="163.3" y="475.2" width="2.9" height="21.6" fill="#c2cdd5"/>
<rect x="169.2" y="475.2" width="3.4" height="21.6" fill="#c2cdd5"/>
<rect x="173.6" y="475.2" width="3.4" height="21.6" fill="#c2cdd5"/>
<rect x="178.4" y="475.2" width="3.4" height="21.6" fill="#c2cdd5"/>
<rect x="183.3" y="475.2" width="2.9" height="21.6" fill="#c2cdd5"/>
<rect x="187.2" y="475.2" width="3.4" height="21.6" fill="#c2cdd5"/>
<rect x="191.6" y="475.2" width="2.9" height="21.6" fill="#c2cdd5"/>
<rect x="196" y="475.2" width="3.4" height="21.6" fill="#c2cdd5"/>
<rect x="200.4" y="475.2" width="5.4" height="21.6" fill="#c2cdd5"/>
<rect x="207.3" y="475.2" width="2.4" height="21.6" fill="#c2cdd5"/>
<rect x="210.7" y="475.2" width="8.8" height="21.6" fill="#c2cdd5"/>
<rect x="223.4" y="475.2" width="2.4" height="21.6" fill="#c2cdd5"/>
<rect x="227.3" y="475.2" width="3.4" height="21.6" fill="#c2cdd5"/>
<rect x="233.6" y="475.2" width="5.9" height="21.6" fill="#c2cdd5"/>
<rect x="242.4" y="475.2" width="2.9" height="21.6" fill="#c2cdd5"/>
<rect x="248.7" y="475.2" width="3.4" height="21.6" fill="#c2cdd5"/>
<rect x="254.1" y="475.2" width="3.4" height="21.6" fill="#c2cdd5"/>
<rect x="260" y="475.2" width="2.9" height="21.6" fill="#c2cdd5"/>
<rect x="265.3" y="475.2" width="2" height="21.6" fill="#c2cdd5"/>
<rect x="268.7" y="475.2" width="3.4" height="21.6" fill="#c2cdd5"/>
<rect x="276" y="475.2" width="2.5" height="21.6" fill="#c2cdd5"/>
<rect x="280.9" y="475.2" width="5.9" height="21.6" fill="#c2cdd5"/>
<rect x="295.5" y="475.2" width="8.8" height="21.6" fill="#c2cdd5"/>
<rect x="306.2" y="475.2" width="8.4" height="21.6" fill="#c2cdd5"/>
<polyline points="75.3,473.4 76.7,472.6 78.4,471.4 80.1,470.4 82.2,469.4 84.2,468.2 86.3,467.3 88.3,466.4 90.4,465.2 92.4,464.5 94.5,463.2 96.5,462.3 98.6,461.3 100.6,460.4 102.7,459.1 104.7,458.7 106.8,458.3 108.8,458.1 110.8,458.1 112.9,457.4 114.9,456.8 117,456.3 119,456 121.1,455 123.1,454.2 125.2,452.9 127.2,451.9 129.3,451.7 131.3,451.2 133.4,450.1 135.4,449.9 137.3,449.5 139.1,449 140.9,448.4 142.8,448.5 144.6,447.8 146.4,446.7 148.2,445.8 150,444.8 151.8,443.7 153.8,437.6 155.9,437.2 157.9,436.3 160,435.6 162,434.5 164.1,433.5 166.1,432.3 168.2,431.5 170.2,429 172.3,426.3 174.3,423.3 176.4,423 178.4,422.8 180.4,422.8 182.5,422.9 184.3,421.3 186.1,420.2 187.9,418.8 189.7,417.1 191.4,416.9 193.1,416.3 194,416.1 196,415.1 198.1,414.7 200.1,413.9 202.2,413 204.2,412.1 206.3,411.3 208.3,409.7 210.4,408.9 212.4,408.2 214.5,408.1 216.5,407.7 218.6,406.9 220.6,406.2 222.7,405.2 224.7,404.6 226.8,403.8 228.8,403.2 230.8,402.1 232.9,401.4 234.9,400.8 237,400.1 239,399.5 241.1,399.2 243.1,398.7 245.2,398 247.2,397.5 249.3,397 251.3,396.7 253.4,395.7 255.4,394.3 257.5,393.6 259.5,392.2 261.6,390.5 263.6,389.8 265.6,389.5 267.7,388.9 269.7,389.1 271.8,388.5 273.8,388 275.9,388.2 277.9,387.9 280,387.4 282,387.2 284.1,386.2 286.1,385.9 288.2,385.4 290.2,385 292.3,385.2 294.3,385 296.4,384.7 298.4,384.4 300.2,383.6 302,382.7 303.8,382.3 305.6,381.3 307.3,381 309,380.7 310.7,380.3 312.7,379.9 314.6,379.9" fill="none" stroke="#7cc150" stroke-width="1.6" stroke-linejoin="round" stroke-linecap="round" />
<polyline points="75.3,398.7 75.7,407.6 76.5,415.1 77.3,411.8 78.1,408.9 79.1,398.5 80.1,386 81.2,395.9 82.2,408.9 83,433.3 83.8,460.1 84.7,427.8 85.7,399.1 86.5,413.3 87.3,425.3 88.1,406.3 88.9,384 89.8,397.5 90.7,409.2 91.6,423.9 92.4,435.6 93.3,427 94.2,416.4 95,405.4 95.9,396.7 96.7,409.5 97.4,423.6 98.2,437.6 99.1,410.1 100,384 100.7,408.4 101.5,433.9 102.2,458.1 103.2,426 104.1,390.5 104.9,406.1 105.7,425.3 106.5,414.5 107.4,403.2 108.4,425.3 109.3,406.6 110.2,391.5 111.1,397.2 112,407.1 112.9,413 113.7,426.1 114.5,438.6 115.2,422.1 116,402.2 117,412.5 118,423.3 119,392.6 119.9,404.3 120.7,419.4 121.5,433.5 122.5,407.5 123.5,380.7 124.4,402.8 125.2,423.4 126,441.7 126.8,462.2 127.8,427 128.9,392.6 129.9,425.8 130.9,462.2 131.6,429.5 132.3,395.6 133.4,395 134.4,396.7 135.4,433.5 136.2,417.3 137.1,402 137.9,389.1 138.9,399.1 139.9,413 140.7,411.7 141.6,408.9 142.6,396.7 143.6,387.4 144.4,424.6 145.2,458.1 146.1,441.4 146.9,429.5 147.7,413 148.5,398.4 149.3,384.8 150.2,373.5 150.9,394.4 151.6,412.5 152.4,434.4 153.1,452.2 153.8,473.4 154.6,432.7 155.3,395.6 156.2,402.5 157,408.1 157.9,413 159,456 160,429.3 161,399.7 161.9,407.8 162.8,412.4 163.7,421.2 164.7,376.6 165.5,397 166.2,417.1 167,436 167.8,456 168.6,432.4 169.4,404.3 170.2,379.9 171,411.5 171.9,440.4 172.7,469.3 173.6,444 174.4,420.6 175.3,399.1 176.4,410.8 177.4,421.2 178.3,412.6 179.2,399.8 180,391.5 180.9,405.5 181.7,421.8 182.5,435.6 183.3,415.7 184.1,399.9 185,379.9 185.8,400.4 186.7,419.3 187.6,441.7 188.6,405.3 189.7,410.7 190.7,417.1 191.5,407.7 192.3,397.5 193.1,388.1 194,388.1 194.8,405.9 195.6,422.2 196.7,407.8 197.7,396.2 198.5,416.1 199.3,433.5 200.2,412 201.2,391.5 202,421.3 202.8,449.9 203.5,418 204.2,385 205.1,398.8 205.9,412.8 206.7,427.4 207.7,415.7 208.7,401.8 209.6,409.2 210.4,413 211.4,400.7 212.4,386 213.4,418.7 214.5,450.9 215.2,419.2 215.9,389.1 216.7,402.4 217.5,419.2 218.5,413.1 219.4,403.2 220.2,423.8 221,442.7 221.8,433 222.6,419.9 223.4,410 224.1,400.4 224.9,387.4 225.6,402.8 226.3,416 227.1,428.9 227.8,443.7 228.5,417.4 229.2,391.5 229.9,404 230.6,412.9 231.4,425 232.1,435.6 232.8,447.7 233.5,457 234.2,427.9 234.9,396.2 236,411.5 237,428.4 237.8,408 238.6,391.5 239.5,397.5 240.4,405 241.2,412.6 242.1,419.2 242.9,408.2 243.7,394.6 244.5,410 245.3,420.4 246,437.4 246.8,449.9 247.6,439.9 248.5,428.8 249.3,416.4 250.1,403.9 250.9,393.6 251.6,407 252.3,418.9 253.1,430.4 253.8,441.7 254.6,432.1 255.4,418.6 256.2,406.3 257.1,396.7 257.9,416 258.7,436.1 259.5,454 260.5,417.8 261.6,384 262.3,399.6 263,414.9 263.8,426.8 264.5,442.9 265.2,457 266.3,427.6 267.3,396.7 268.1,402 268.9,406.4 269.7,413 270.8,400.8 271.8,390.5 272.6,401.4 273.4,411.5 274.2,420.2 275,414.3 275.7,407.1 276.5,404.2 277.2,398.4 277.9,391.5 278.7,405.8 279.5,422.6 280.2,439.2 281,453 281.8,423.3 282.6,390.5 283.7,414.7 284.7,438.6 285.4,427.5 286.1,417 286.8,404.4 287.6,394.6 288.4,398.8 289.3,404.3 290.2,411 291,414.4 291.7,415.6 292.5,418.9 293.3,421.2 294.2,414.7 295,409 295.9,401.4 296.8,396.7 297.7,412.9 298.5,434.8 299.4,450.9 300.4,389.1 301.3,389.5 302.2,389.2 303.1,392.2 303.9,392.6 304.7,412.5 305.4,428.7 306.2,448.9 306.9,423.1 307.6,396.7 308.4,396 309.1,396.7 309.9,394.7 310.7,396.7 311.7,404.5 312.7,416.1 313.8,408.3 314.6,396.7" fill="none" stroke="#3f80c8" stroke-width="1.25" stroke-linejoin="round" stroke-linecap="round" />
<circle cx="80.1" cy="386" r="2.1" fill="#d8262c"/>
<circle cx="85.7" cy="399.1" r="2.1" fill="#d8262c"/>
<circle cx="88.9" cy="384" r="2.1" fill="#d8262c"/>
<circle cx="95.9" cy="396.7" r="2.1" fill="#d8262c"/>
<circle cx="100" cy="384" r="2.1" fill="#d8262c"/>
<circle cx="104.1" cy="390.5" r="2.1" fill="#d8262c"/>
<circle cx="107.4" cy="403.2" r="2.1" fill="#d8262c"/>
<circle cx="110.2" cy="391.5" r="2.1" fill="#d8262c"/>
<circle cx="116" cy="402.2" r="2.1" fill="#d8262c"/>
<circle cx="119" cy="392.6" r="2.1" fill="#d8262c"/>
<circle cx="123.5" cy="380.7" r="2.1" fill="#d8262c"/>
<circle cx="128.9" cy="392.6" r="2.1" fill="#d8262c"/>
<circle cx="132.3" cy="395.6" r="2.1" fill="#d8262c"/>
<circle cx="134.4" cy="396.7" r="2.1" fill="#d8262c"/>
<circle cx="137.9" cy="389.1" r="2.1" fill="#d8262c"/>
<circle cx="143.6" cy="387.4" r="2.1" fill="#d8262c"/>
<circle cx="150.2" cy="373.5" r="2.1" fill="#d8262c"/>
<circle cx="155.3" cy="395.6" r="2.1" fill="#d8262c"/>
<circle cx="161" cy="399.7" r="2.1" fill="#d8262c"/>
<circle cx="164.7" cy="376.6" r="2.1" fill="#d8262c"/>
<circle cx="170.2" cy="379.9" r="2.1" fill="#d8262c"/>
<circle cx="175.3" cy="399.1" r="2.1" fill="#d8262c"/>
<circle cx="180" cy="391.5" r="2.1" fill="#d8262c"/>
<circle cx="185" cy="379.9" r="2.1" fill="#d8262c"/>
<circle cx="188.6" cy="405.3" r="2.1" fill="#d8262c"/>
<circle cx="193.1" cy="388.1" r="2.1" fill="#d8262c"/>
<circle cx="197.7" cy="396.2" r="2.1" fill="#d8262c"/>
<circle cx="201.2" cy="391.5" r="2.1" fill="#d8262c"/>
<circle cx="204.2" cy="385" r="2.1" fill="#d8262c"/>
<circle cx="208.7" cy="401.8" r="2.1" fill="#d8262c"/>
<circle cx="212.4" cy="386" r="2.1" fill="#d8262c"/>
<circle cx="215.9" cy="389.1" r="2.1" fill="#d8262c"/>
<circle cx="219.4" cy="403.2" r="2.1" fill="#d8262c"/>
<circle cx="224.9" cy="387.4" r="2.1" fill="#d8262c"/>
<circle cx="229.2" cy="391.5" r="2.1" fill="#d8262c"/>
<circle cx="234.9" cy="396.2" r="2.1" fill="#d8262c"/>
<circle cx="238.6" cy="391.5" r="2.1" fill="#d8262c"/>
<circle cx="243.7" cy="394.6" r="2.1" fill="#d8262c"/>
<circle cx="250.9" cy="393.6" r="2.1" fill="#d8262c"/>
<circle cx="257.1" cy="396.7" r="2.1" fill="#d8262c"/>
<circle cx="261.6" cy="384" r="2.1" fill="#d8262c"/>
<circle cx="267.3" cy="396.7" r="2.1" fill="#d8262c"/>
<circle cx="271.8" cy="390.5" r="2.1" fill="#d8262c"/>
<circle cx="277.9" cy="391.5" r="2.1" fill="#d8262c"/>
<circle cx="282.6" cy="390.5" r="2.1" fill="#d8262c"/>
<circle cx="285.1" cy="408.5" r="2.1" fill="#d8262c"/>
<circle cx="287.6" cy="394.6" r="2.1" fill="#d8262c"/>
<circle cx="296.8" cy="396.7" r="2.1" fill="#d8262c"/>
<circle cx="300.4" cy="389.1" r="2.1" fill="#d8262c"/>
<circle cx="303.9" cy="392.6" r="2.1" fill="#d8262c"/>
<circle cx="307.6" cy="396.7" r="2.1" fill="#d8262c"/>
<circle cx="310.7" cy="396.7" r="2.1" fill="#d8262c"/>
<circle cx="314.8" cy="396.7" r="2.1" fill="#d8262c"/>
<rect x="75.3" y="372.2" width="239.3" height="101.1" fill="none" stroke="#98a4ad" stroke-width="1.2"/>
<rect x="75.3" y="475.2" width="239.3" height="21.6" fill="none" stroke="#98a4ad" stroke-width="1.2"/>
<line x1="75.3" y1="372.2" x2="77.8" y2="372.2" stroke="#98a4ad" stroke-width="1"/>
<line x1="75.3" y1="405.9" x2="77.8" y2="405.9" stroke="#98a4ad" stroke-width="1"/>
<line x1="75.3" y1="439.6" x2="77.8" y2="439.6" stroke="#98a4ad" stroke-width="1"/>
<line x1="75.3" y1="473.3" x2="77.8" y2="473.3" stroke="#98a4ad" stroke-width="1"/>
<line x1="312.1" y1="473.3" x2="314.6" y2="473.3" stroke="#98a4ad" stroke-width="1"/>
<line x1="312.1" y1="431.8" x2="314.6" y2="431.8" stroke="#98a4ad" stroke-width="1"/>
<line x1="312.1" y1="390.3" x2="314.6" y2="390.3" stroke="#98a4ad" stroke-width="1"/>
<line x1="75.3" y1="475.2" x2="75.3" y2="477.2" stroke="#98a4ad" stroke-width="1"/>
<line x1="75.3" y1="494.8" x2="75.3" y2="496.8" stroke="#98a4ad" stroke-width="1"/>
<line x1="123.2" y1="475.2" x2="123.2" y2="477.2" stroke="#98a4ad" stroke-width="1"/>
<line x1="123.2" y1="494.8" x2="123.2" y2="496.8" stroke="#98a4ad" stroke-width="1"/>
<line x1="171" y1="475.2" x2="171" y2="477.2" stroke="#98a4ad" stroke-width="1"/>
<line x1="171" y1="494.8" x2="171" y2="496.8" stroke="#98a4ad" stroke-width="1"/>
<line x1="218.9" y1="475.2" x2="218.9" y2="477.2" stroke="#98a4ad" stroke-width="1"/>
<line x1="218.9" y1="494.8" x2="218.9" y2="496.8" stroke="#98a4ad" stroke-width="1"/>
<line x1="266.7" y1="475.2" x2="266.7" y2="477.2" stroke="#98a4ad" stroke-width="1"/>
<line x1="266.7" y1="494.8" x2="266.7" y2="496.8" stroke="#98a4ad" stroke-width="1"/>
<line x1="314.6" y1="475.2" x2="314.6" y2="477.2" stroke="#98a4ad" stroke-width="1"/>
<line x1="314.6" y1="494.8" x2="314.6" y2="496.8" stroke="#98a4ad" stroke-width="1"/>
<text x="71" y="376.8" font-size="11" text-anchor="end" fill="#3d4146" stroke="#3d4146" stroke-width="0.4" font-weight="normal" >10</text>
<text x="71" y="410.4" font-size="11" text-anchor="end" fill="#3d4146" stroke="#3d4146" stroke-width="0.4" font-weight="normal" >0</text>
<text x="71" y="444.2" font-size="11" text-anchor="end" fill="#3d4146" stroke="#3d4146" stroke-width="0.4" font-weight="normal" >-10</text>
<text x="71" y="477.9" font-size="11" text-anchor="end" fill="#3d4146" stroke="#3d4146" stroke-width="0.4" font-weight="normal" >-20</text>
<text x="318.2" y="478.1" font-size="11" text-anchor="start" fill="#3d4146" stroke="#3d4146" stroke-width="0.4" font-weight="normal" >0</text>
<text x="318.2" y="436.6" font-size="11" text-anchor="start" fill="#3d4146" stroke="#3d4146" stroke-width="0.4" font-weight="normal" >0.5</text>
<text x="318.2" y="395.1" font-size="11" text-anchor="start" fill="#3d4146" stroke="#3d4146" stroke-width="0.4" font-weight="normal" >1</text>
<text x="75.3" y="513.2" font-size="11" text-anchor="middle" fill="#3d4146" stroke="#3d4146" stroke-width="0.4" font-weight="normal" >0</text>
<text x="123.2" y="513.2" font-size="11" text-anchor="middle" fill="#3d4146" stroke="#3d4146" stroke-width="0.4" font-weight="normal" >1</text>
<text x="171" y="513.2" font-size="11" text-anchor="middle" fill="#3d4146" stroke="#3d4146" stroke-width="0.4" font-weight="normal" >2</text>
<text x="218.9" y="513.2" font-size="11" text-anchor="middle" fill="#3d4146" stroke="#3d4146" stroke-width="0.4" font-weight="normal" >3</text>
<text x="266.7" y="513.2" font-size="11" text-anchor="middle" fill="#3d4146" stroke="#3d4146" stroke-width="0.4" font-weight="normal" >4</text>
<text x="314.6" y="513.2" font-size="11" text-anchor="middle" fill="#3d4146" stroke="#3d4146" stroke-width="0.4" font-weight="normal" >5</text>
<text transform="translate(44.3,442.4) rotate(-90)" font-size="12.5" fill="#3d4146" stroke="#3d4146">V<tspan font-size="9.5" dx="0.9" dy="5">m</tspan><tspan dy="-5" dx="0.9"> (V)</tspan></text>
<text transform="translate(349.6,422.2) rotate(-90)" font-size="12.5" text-anchor="middle" fill="#3d4146" stroke="#3d4146">E (μJ)</text>
<text x="195" y="529.2" font-size="12.5" text-anchor="middle" fill="#3d4146" stroke="#3d4146" stroke-width="0.4" font-weight="normal" >time (s)</text>
<rect x="407.3" y="130" width="245.7" height="33" fill="#edf4fa"/>
<rect x="409.7" y="130" width="4.3" height="33" fill="#c2cdd5"/>
<rect x="431.4" y="130" width="3.3" height="33" fill="#c2cdd5"/>
<rect x="445.6" y="130" width="3.3" height="33" fill="#c2cdd5"/>
<rect x="451.3" y="130" width="4.7" height="33" fill="#c2cdd5"/>
<rect x="457" y="130" width="4.7" height="33" fill="#c2cdd5"/>
<rect x="462.6" y="130" width="5.4" height="33" fill="#c2cdd5"/>
<rect x="480.2" y="130" width="2.9" height="33" fill="#c2cdd5"/>
<rect x="487" y="130" width="3.4" height="33" fill="#c2cdd5"/>
<rect x="500.2" y="130" width="2.9" height="33" fill="#c2cdd5"/>
<rect x="505.5" y="130" width="3.9" height="33" fill="#c2cdd5"/>
<rect x="512.8" y="130" width="3.4" height="33" fill="#c2cdd5"/>
<rect x="522.6" y="130" width="3.9" height="33" fill="#c2cdd5"/>
<rect x="528.4" y="130" width="4.6" height="33" fill="#c2cdd5"/>
<rect x="535.4" y="130" width="7.3" height="33" fill="#c2cdd5"/>
<rect x="552.9" y="130" width="3" height="33" fill="#c2cdd5"/>
<rect x="564.1" y="130" width="2.5" height="33" fill="#c2cdd5"/>
<rect x="569" y="130" width="3.9" height="33" fill="#c2cdd5"/>
<rect x="576.3" y="130" width="3.4" height="33" fill="#c2cdd5"/>
<rect x="581.7" y="130" width="5.3" height="33" fill="#c2cdd5"/>
<rect x="590.5" y="130" width="4.5" height="33" fill="#c2cdd5"/>
<rect x="596" y="130" width="4.3" height="33" fill="#c2cdd5"/>
<rect x="606.2" y="130" width="4.4" height="33" fill="#c2cdd5"/>
<rect x="613" y="130" width="2.9" height="33" fill="#c2cdd5"/>
<rect x="618.4" y="130" width="3.9" height="33" fill="#c2cdd5"/>
<rect x="625.2" y="130" width="7.3" height="33" fill="#c2cdd5"/>
<rect x="633.5" y="130" width="3.4" height="33" fill="#c2cdd5"/>
<rect x="638.8" y="130" width="3.9" height="33" fill="#c2cdd5"/>
<rect x="644.7" y="130" width="2.4" height="33" fill="#c2cdd5"/>
<rect x="649.1" y="130" width="3.9" height="33" fill="#c2cdd5"/>
<polyline points="407.3,50.4 407.8,52 408.7,53.7 409.7,55 410.6,53.9 411.6,53.2 412.5,51.2 413.4,46.5 414.4,44.7 415.3,45.5 416.2,47.3 417.2,47.6 418.1,49.9 419.1,54.3 420,56.9 420.9,58.5 421.9,61.9 422.8,63.5 423.7,60.8 424.7,56.1 425.6,54.1 426.6,48.8 427.5,39.1 428.4,34.4 429.4,40.2 430.3,51.8 431.2,57.9 432.2,60.9 433.1,64.4 434,62.6 435,60.2 435.9,58.8 436.9,56.1 437.8,49.8 438.7,46.6 439.7,46.4 440.6,45.8 441.5,44.7 442.5,44.7 443.4,47.8 444.4,53.1 445.3,56 446.2,54.6 447.2,51.9 448.1,50.4 449,50.1 450,49.2 450.9,48.5 451.9,48.5 452.8,46.6 453.7,43.6 454.7,41.9 455.6,43.5 456.5,46.9 457.5,48.5 458.4,48.5 459.3,50.2 460.3,52 461.2,52.2 462.2,53.8 463.1,57.6 464,59.4 465,55.7 465.9,48.2 466.8,44.7 467.8,42.2 468.7,35.4 469.7,32.6 470.6,35.4 471.5,39.9 472.5,42.9 473.4,44.2 474.3,49.3 475.3,53.2 476.2,55 477.2,53.3 478.1,50.1 479,45.8 480,42.6 480.9,41 481.8,42.5 482.8,46.3 483.7,48.5 484.6,49.7 485.6,51.3 486.5,53 487.5,55.1 488.4,56 489.3,55.3 490.3,54.3 491.2,52.9 492.1,52.2 493.1,49.7 494,42.7 495,35.5 495.9,32.6 496.8,36.8 497.8,44.7 498.7,48.5 499.6,52.3 500.6,59 501.5,62.5 502.5,61 503.4,56.7 504.3,52.6 505.3,50.4 506.2,47.1 507.1,40.9 508.1,33.1 509,30.7 509.9,34.9 510.9,42.7 511.8,46.6 512.8,49.9 513.7,56.9 514.6,59.7 515.6,58.4 516.5,55.4 517.4,54.1 518.4,53.6 519.3,51.7 520.3,49.4 521.2,48.5 522.1,48.9 523.1,50.3 524,51.6 524.9,52.2 526,53.4 527,54.8 528,56 528.9,54.5 529.9,51.8 530.8,50.4 531.7,47.9 532.7,45.7 533.6,46.7 534.6,49.5 535.5,50.4 536.4,49.8 537.4,48.5 538.3,49.7 539.2,51.9 540.2,53.2 541.1,51.9 542.1,50.2 543,49.4 543.9,48.2 544.9,46.7 545.8,44.7 546.7,43.8 547.7,44.1 548.6,46.3 549.6,46.6 550.5,49.7 551.4,53.2 552.4,55.9 553.3,60.5 554.2,62.5 555.2,60 556.1,53.1 557,50.4 558,47.2 558.9,41.6 559.9,38.2 560.8,41.4 561.7,45.7 562.7,46.6 563.6,50 564.5,51.3 565.5,51.1 566.4,51 567.4,50.4 568.3,49 569.2,45.5 570.2,43.8 571.1,43.1 572,40.3 573,39.1 573.9,40.8 574.9,44.2 575.8,45.7 576.7,46.3 577.7,47.9 578.6,49.8 579.5,50.4 580.5,50.7 581.4,52.2 582.3,52.2 583.3,51.5 584.2,49.5 585.2,48.5 586.1,47.4 587,46.3 588,45.7 588.9,46.7 589.8,49.3 590.8,50.4 591.7,50.9 592.7,52.1 593.6,52.2 594.5,52 595.5,50.1 596.4,49.4 597.3,48.4 598.3,46.7 599.2,45.7 600.2,47.1 601.1,48.3 602,49.4 603,49.7 603.9,50.4 604.8,50.4 605.8,50.6 606.7,52.1 607.6,54 608.6,54.1 609.5,54.4 610.5,54.1 611.4,53.7 612.3,54.1 613.3,53.6 614.2,51.5 615.1,50.4 616.1,51.9 617,54.4 618,55 618.9,55 619.8,53.6 620.8,53.2 621.7,52.6 622.6,52.3 623.6,52.2 624.5,52.2 625.5,52.2 626.4,52.2 627.3,53 628.3,55.7 629.2,58.8 630.1,59.7 631.1,57.7 632,53.3 632.9,51.3 633.9,51.6 634.8,50.7 635.8,50.4 636.7,50.4 637.6,51.7 638.6,52.2 639.5,52.3 640.4,51.1 641.4,50.8 642.3,50.4 643.3,48.6 644.2,46 645.1,43.5 646.1,41.9 647,43.7 647.9,47 648.9,48.5 649.8,47.9 650.8,47.5 651.7,46.9 652.6,46.6" fill="none" stroke="#82c561" stroke-width="1.6" stroke-linejoin="round" stroke-linecap="round" />
<polyline points="407.3,40.1 407.8,39.6 408.7,38.7 409.7,38.4 410.6,37.6 411.6,37.2 412.5,37.4 413.4,38.9 414.4,39.1 415.3,37.4 416.2,34.6 417.2,33.1 418.1,33.6 419.1,35.3 420,36.3 420.9,38.5 421.9,41.8 422.8,43.8 423.7,42.4 424.7,40.3 425.6,39.1 426.6,37.5 427.5,34.9 428.4,33.1 429.4,33.6 430.3,35.9 431.2,36.3 432.2,38.1 433.1,42.9 434,44.7 435,43.5 435.9,40.3 436.9,39.1 437.8,37.8 438.7,35 439.7,33.9 440.6,34.8 441.5,36.9 442.5,38.2 443.4,38.3 444.4,39.3 445.3,39.1 446.2,39 447.2,38.1 448.1,37.2 449,36.5 450,35.7 450.9,35.2 451.9,34.4 452.8,35 453.7,37.4 454.7,38.2 455.6,38 456.5,38.6 457.5,37.8 458.4,38.2 459.3,38.7 460.3,39 461.2,39.5 462.2,40.1 463.1,39.7 464,40.3 465,40.1 465.9,40.1 466.8,38.4 467.8,35.3 468.7,32.4 469.7,30.7 470.6,31.4 471.5,33.6 472.5,34.4 473.4,35.1 474.3,37.5 475.3,40.2 476.2,41 477.2,40.6 478.1,38.7 479,36.7 480,35.2 480.9,35 481.8,35.4 482.8,36 483.7,36.3 484.6,36.3 485.6,36.7 486.5,37.6 487.5,38.2 488.4,38.2 489.3,38.9 490.3,39.7 491.2,40.1 492.1,39.1 493.1,37 494,35.1 495,32.9 495.9,32.2 496.8,33.6 497.8,35.6 498.7,37.2 499.6,38.6 500.6,40.9 501.5,43.9 502.5,44.7 503.4,43.9 504.3,40.5 505.3,36.4 506.2,34.1 507.1,32.6 508.1,33.2 509,35 509.9,35.4 510.9,36.1 511.8,38.4 512.8,41.2 513.7,41.9 514.6,42.1 515.6,42.6 516.5,43.4 517.4,43.8 518.4,42.5 519.3,38.7 520.3,35.8 521.2,34.4 522.1,34.9 523.1,36.3 524,37.3 524.9,38.2 526,37.4 527,35.6 528,34.4 528.9,35.9 529.9,37.8 530.8,39.1 531.7,38.6 532.7,36.9 533.6,36.3 534.6,37.2 535.5,38.1 536.4,39.1 537.4,39.2 538.3,38.8 539.2,38.2 540.2,38.5 541.1,39.2 542.1,39.5 543,39 543.9,37.8 544.9,37.2 545.8,36.6 546.7,36.7 547.7,35.4 548.6,35.4 549.6,35.7 550.5,36.9 551.4,38.4 552.4,39.1 553.3,39.6 554.2,39.7 555.2,40.4 556.1,41 557,39.3 558,35.1 558.9,33.5 559.9,32.5 560.8,31.9 561.7,31.2 562.7,32.6 563.6,35.1 564.5,36.3 565.5,39.7 566.4,42.9 567.4,41.2 568.3,38.7 569.2,35.4 570.2,33.9 571.1,34.4 572,36.1 573,37.2 573.9,37 574.9,36.5 575.8,36.3 576.7,36.7 577.7,37.9 578.6,39.4 579.5,40.1 580.5,39.4 581.4,38.7 582.3,37.9 583.3,37.2 584.2,37.1 585.2,37.6 586.1,37.6 587,37.5 588,36.4 588.9,36.3 589.8,35.7 590.8,37.3 591.7,39.3 592.7,40.6 593.6,40 594.5,38.8 595.5,36.6 596.4,34.9 597.3,34.4 598.3,35.3 599.2,36.5 600.2,37.5 601.1,38.2 602,38.1 603,38.3 603.9,38.6 604.8,38.7 605.8,39 606.7,38.7 607.6,38.6 608.6,38.2 609.5,38.6 610.5,39.1 611.4,38.9 612.3,39.5 613.3,39.4 614.2,39.5 615.1,39.2 616.1,38.7 617,38.7 618,39.1 618.9,39.5 619.8,39.5 620.8,39.2 621.7,39 622.6,38.7 623.6,38.1 624.5,37.8 625.5,37.6 626.4,38 627.3,38.4 628.3,39.1 629.2,38.7 630.1,39 631.1,38.5 632,38.2 632.9,38.3 633.9,37.6 634.8,37.3 635.8,36.9 636.7,37.6 637.6,38.5 638.6,38.7 639.5,39.5 640.4,39.1 641.4,37.9 642.3,37.6 643.3,37.4 644.2,36.1 645.1,35.4 646.1,35 647,35.7 647.9,36.2 648.9,36.7 649.8,37.2 650.8,37.7 651.7,38.6 652.6,39.1" fill="none" stroke="#4244ab" stroke-width="1.4" stroke-linejoin="round" stroke-linecap="round" />
<rect x="407.3" y="29.8" width="245.7" height="133.2" fill="none" stroke="#98a4ad" stroke-width="1.2"/>
<line x1="407.3" y1="130" x2="653" y2="130" stroke="#98a4ad" stroke-width="1.4"/>
<line x1="407.3" y1="30" x2="409.8" y2="30" stroke="#98a4ad" stroke-width="1"/>
<line x1="650.5" y1="30" x2="653" y2="30" stroke="#98a4ad" stroke-width="1"/>
<line x1="407.3" y1="55" x2="409.8" y2="55" stroke="#98a4ad" stroke-width="1"/>
<line x1="650.5" y1="55" x2="653" y2="55" stroke="#98a4ad" stroke-width="1"/>
<line x1="407.3" y1="80" x2="409.8" y2="80" stroke="#98a4ad" stroke-width="1"/>
<line x1="650.5" y1="80" x2="653" y2="80" stroke="#98a4ad" stroke-width="1"/>
<line x1="407.3" y1="105" x2="409.8" y2="105" stroke="#98a4ad" stroke-width="1"/>
<line x1="650.5" y1="105" x2="653" y2="105" stroke="#98a4ad" stroke-width="1"/>
<line x1="407.3" y1="161" x2="407.3" y2="163" stroke="#98a4ad" stroke-width="1"/>
<line x1="407.3" y1="130" x2="407.3" y2="132" stroke="#98a4ad" stroke-width="1"/>
<line x1="431.9" y1="161" x2="431.9" y2="163" stroke="#98a4ad" stroke-width="1"/>
<line x1="431.9" y1="130" x2="431.9" y2="132" stroke="#98a4ad" stroke-width="1"/>
<line x1="456.4" y1="161" x2="456.4" y2="163" stroke="#98a4ad" stroke-width="1"/>
<line x1="456.4" y1="130" x2="456.4" y2="132" stroke="#98a4ad" stroke-width="1"/>
<line x1="481" y1="161" x2="481" y2="163" stroke="#98a4ad" stroke-width="1"/>
<line x1="481" y1="130" x2="481" y2="132" stroke="#98a4ad" stroke-width="1"/>
<line x1="505.6" y1="161" x2="505.6" y2="163" stroke="#98a4ad" stroke-width="1"/>
<line x1="505.6" y1="130" x2="505.6" y2="132" stroke="#98a4ad" stroke-width="1"/>
<line x1="530.1" y1="161" x2="530.1" y2="163" stroke="#98a4ad" stroke-width="1"/>
<line x1="530.1" y1="130" x2="530.1" y2="132" stroke="#98a4ad" stroke-width="1"/>
<line x1="554.7" y1="161" x2="554.7" y2="163" stroke="#98a4ad" stroke-width="1"/>
<line x1="554.7" y1="130" x2="554.7" y2="132" stroke="#98a4ad" stroke-width="1"/>
<line x1="579.3" y1="161" x2="579.3" y2="163" stroke="#98a4ad" stroke-width="1"/>
<line x1="579.3" y1="130" x2="579.3" y2="132" stroke="#98a4ad" stroke-width="1"/>
<line x1="603.9" y1="161" x2="603.9" y2="163" stroke="#98a4ad" stroke-width="1"/>
<line x1="603.9" y1="130" x2="603.9" y2="132" stroke="#98a4ad" stroke-width="1"/>
<line x1="628.4" y1="161" x2="628.4" y2="163" stroke="#98a4ad" stroke-width="1"/>
<line x1="628.4" y1="130" x2="628.4" y2="132" stroke="#98a4ad" stroke-width="1"/>
<line x1="653" y1="161" x2="653" y2="163" stroke="#98a4ad" stroke-width="1"/>
<line x1="653" y1="130" x2="653" y2="132" stroke="#98a4ad" stroke-width="1"/>
<text x="403.2" y="36.2" font-size="11" text-anchor="end" fill="#3d4146" stroke="#3d4146" stroke-width="0.4" font-weight="normal" >1</text>
<text x="403.2" y="60.8" font-size="11" text-anchor="end" fill="#3d4146" stroke="#3d4146" stroke-width="0.4" font-weight="normal" >0.8</text>
<text x="403.2" y="85.4" font-size="11" text-anchor="end" fill="#3d4146" stroke="#3d4146" stroke-width="0.4" font-weight="normal" >0.6</text>
<text x="403.2" y="110.5" font-size="11" text-anchor="end" fill="#3d4146" stroke="#3d4146" stroke-width="0.4" font-weight="normal" >0.4</text>
<text x="403.2" y="135" font-size="11" text-anchor="end" fill="#3d4146" stroke="#3d4146" stroke-width="0.4" font-weight="normal" >0.2</text>
<text x="408" y="176" font-size="11" text-anchor="middle" fill="#3d4146" stroke="#3d4146" stroke-width="0.4" font-weight="normal" >0</text>
<text x="456.9" y="176" font-size="11" text-anchor="middle" fill="#3d4146" stroke="#3d4146" stroke-width="0.4" font-weight="normal" >1</text>
<text x="505.9" y="176" font-size="11" text-anchor="middle" fill="#3d4146" stroke="#3d4146" stroke-width="0.4" font-weight="normal" >2</text>
<text x="554.9" y="176" font-size="11" text-anchor="middle" fill="#3d4146" stroke="#3d4146" stroke-width="0.4" font-weight="normal" >3</text>
<text x="603.8" y="176" font-size="11" text-anchor="middle" fill="#3d4146" stroke="#3d4146" stroke-width="0.4" font-weight="normal" >4</text>
<text x="652.8" y="176" font-size="11" text-anchor="middle" fill="#3d4146" stroke="#3d4146" stroke-width="0.4" font-weight="normal" >5</text>
<text transform="translate(381.8,80.9) rotate(-90)" font-size="12" text-anchor="middle" fill="#3d4146" stroke="#3d4146">Amplitude</text>
<rect x="407.3" y="300.4" width="245.7" height="33.1" fill="#edf4fa"/>
<rect x="414.7" y="300.4" width="5.4" height="33.1" fill="#c2cdd5"/>
<rect x="425" y="300.4" width="10.2" height="33.1" fill="#c2cdd5"/>
<rect x="437.7" y="300.4" width="2.9" height="33.1" fill="#c2cdd5"/>
<rect x="442" y="300.4" width="2.5" height="33.1" fill="#c2cdd5"/>
<rect x="446.9" y="300.4" width="4.9" height="33.1" fill="#c2cdd5"/>
<rect x="453.7" y="300.4" width="3.9" height="33.1" fill="#c2cdd5"/>
<rect x="460.1" y="300.4" width="4.4" height="33.1" fill="#c2cdd5"/>
<rect x="466.4" y="300.4" width="4.5" height="33.1" fill="#c2cdd5"/>
<rect x="482.6" y="300.4" width="4.4" height="33.1" fill="#c2cdd5"/>
<rect x="502.6" y="300.4" width="5.4" height="33.1" fill="#c2cdd5"/>
<rect x="509.9" y="300.4" width="3.4" height="33.1" fill="#c2cdd5"/>
<rect x="521.1" y="300.4" width="5.4" height="33.1" fill="#c2cdd5"/>
<rect x="527.5" y="300.4" width="1.9" height="33.1" fill="#c2cdd5"/>
<rect x="530.9" y="300.4" width="5.5" height="33.1" fill="#c2cdd5"/>
<rect x="539.3" y="300.4" width="3.9" height="33.1" fill="#c2cdd5"/>
<rect x="546.1" y="300.4" width="2.9" height="33.1" fill="#c2cdd5"/>
<rect x="552" y="300.4" width="3.4" height="33.1" fill="#c2cdd5"/>
<rect x="558.8" y="300.4" width="6.8" height="33.1" fill="#c2cdd5"/>
<rect x="567.1" y="300.4" width="3.9" height="33.1" fill="#c2cdd5"/>
<rect x="574.9" y="300.4" width="3.9" height="33.1" fill="#c2cdd5"/>
<rect x="580.7" y="300.4" width="4.4" height="33.1" fill="#c2cdd5"/>
<rect x="595" y="300.4" width="3.4" height="33.1" fill="#c2cdd5"/>
<rect x="600.3" y="300.4" width="15.6" height="33.1" fill="#c2cdd5"/>
<rect x="617.9" y="300.4" width="9.2" height="33.1" fill="#c2cdd5"/>
<rect x="641.8" y="300.4" width="3.4" height="33.1" fill="#c2cdd5"/>
<rect x="647.1" y="300.4" width="5.9" height="33.1" fill="#c2cdd5"/>
<polyline points="407.3,225 407.8,224.7 408.7,223.2 409.7,222.2 410.6,218.7 411.6,211.9 412.5,209.1 413.4,208.3 414.4,205.7 415.3,204.4 416.2,204.7 417.2,206.3 418.1,207.2 419.1,209 420,213.9 420.9,215.7 421.9,214 422.8,211.9 423.7,210.1 424.7,208.4 425.6,206.3 426.6,206.6 427.5,208.8 428.4,210.2 429.4,211 430.3,213.6 431.2,218.3 432.2,220.4 433.1,219.9 434,219 435,219.2 435.9,218.5 436.9,215.6 437.8,210.5 438.7,207.2 439.7,207.9 440.6,208.9 441.5,209.1 442.5,210.2 443.4,211.4 444.4,211.9 445.3,211.6 446.2,210.8 447.2,211 448.1,211 449,210.2 450,210.1 450.9,210.5 451.9,211.9 452.8,212.1 453.7,212.9 454.7,213.6 455.6,213.8 456.5,214.7 457.5,213.8 458.4,211.3 459.3,208.1 460.3,207.2 461.2,208.5 462.2,211.2 463.1,211.9 464,210.7 465,209.1 465.9,208.5 466.8,206.8 467.8,206.3 468.7,203.5 469.7,201.6 470.6,203.4 471.5,207.2 472.5,209.1 473.4,210.5 474.3,214.6 475.3,218.4 476.2,220.4 477.2,222.2 478.1,225.5 479,226.9 480,225.7 480.9,223.9 481.8,223.2 482.8,220.8 483.7,218.5 484.6,217.7 485.6,216.8 486.5,215.7 487.5,215 488.4,213.6 489.3,212.9 490.3,211.9 491.2,212.3 492.1,214.1 493.1,214.7 494,215.7 495,218.8 495.9,221.2 496.8,222.2 497.8,222.5 498.7,221.9 499.6,222.4 500.6,222.2 501.5,218.6 502.5,211 503.4,207.2 504.3,208.9 505.3,211.8 506.2,212.9 507.1,215.8 508.1,222.5 509,226 509.9,227 510.9,229.2 511.8,230.7 512.8,228.1 513.7,224.1 514.6,222.2 515.6,217.7 516.5,209.8 517.4,205.4 518.4,205.6 519.3,205.7 520.3,206.3 521.2,206.8 522.1,208.4 523.1,209.1 524,210.2 524.9,212.3 525.9,213.8 526.9,211 528,209.1 528.9,210 529.9,214.3 530.8,217.4 531.7,218.5 532.7,219.2 533.6,222.2 534.6,223.2 535.5,222.4 536.4,219 537.4,215.6 538.3,214.7 539.2,213.4 540.2,210 541.1,206.4 542.1,205.4 543,205.2 543.9,204.2 544.9,204.4 545.8,206.5 546.7,209.5 547.7,211 548.6,212.5 549.6,216.1 550.5,219.1 551.4,220.4 552.4,219.6 553.3,218.7 554.2,218.5 555.2,218.1 556.1,218 557,218.8 558,218.5 558.9,218.1 559.9,216.2 560.8,215.7 561.7,215.2 562.7,215.3 563.6,215.2 564.5,214.7 565.5,213.3 566.4,208.8 567.4,207.2 568.3,209.2 569.2,212.5 570.2,213.8 571.1,215.1 572,217.4 573,219.9 573.9,221.3 574.9,220.9 575.8,219 576.7,218.5 577.7,218.6 578.6,219.2 579.5,219.4 580.5,217.7 581.4,214.8 582.3,212.9 583.3,212.1 584.2,211 585.2,211 586.1,209.2 587,205.5 588,203.5 588.9,205.3 589.8,208.9 590.8,212.7 591.7,213.8 592.7,217.1 593.6,222.2 594.5,225 595.5,225.5 596.4,226.1 597.3,226.9 598.3,224.6 599.2,220.7 600.2,218.5 601.1,216.7 602,214.5 603,212.9 603.9,213 604.8,214.2 605.8,214.7 606.7,215.2 607.6,214.3 608.6,214.7 609.5,214 610.5,214 611.4,213.8 612.3,213.7 613.3,214.7 614.2,214.7 615.1,211.4 616.1,209.1 617,210.3 618,212.3 618.9,214.2 619.8,214.7 620.8,214.5 621.7,214.1 622.6,214.1 623.6,213.8 624.5,211.9 625.5,208.1 626.4,206.3 627.3,207.8 628.3,211.2 629.2,212.9 630.1,215.4 631.1,220.2 632,222.2 632.9,221.8 633.9,219.1 634.8,217.2 635.8,216.6 636.7,215.2 637.6,212.5 638.6,211 639.5,211 640.4,211.2 641.4,211.4 642.3,211.9 643.3,212.5 644.2,214 645.1,214.7 646.1,214.7 647,213.7 647.9,212.9 648.9,213.8 649.8,215.2 650.8,216.5 651.7,216.6" fill="none" stroke="#82c561" stroke-width="1.6" stroke-linejoin="round" stroke-linecap="round" />
<polyline points="407.3,233.5 407.8,232.4 408.7,231.6 409.7,228 410.6,220.4 411.6,216.6 412.5,214.8 413.4,209.2 414.4,203.7 415.3,201.6 416.2,204.1 417.2,207.2 418.1,212.6 419.1,218.5 420,219.6 420.9,220.4 421.9,218.4 422.8,215.1 423.7,213.8 424.7,211.7 425.6,210.1 426.6,211.7 427.5,215.2 428.4,216.6 429.4,217.5 430.3,219.8 431.2,221.8 432.2,223.9 433.1,225 434,223.6 435,220 435.9,218.5 436.9,215.6 437.8,209.2 438.7,206.3 439.7,207 440.6,208.9 441.5,210.1 442.5,212.5 443.4,218.8 444.4,221.3 445.3,219.9 446.2,216 447.2,212.5 448.1,211 449,211.6 450,212.7 450.9,213.8 451.9,217.4 452.8,220.4 453.7,220.2 454.7,220 455.6,219.4 456.5,219.1 457.5,218.8 458.4,218.5 459.3,215.2 460.3,209 461.2,206.3 462.2,210.4 463.1,217.8 464,221.3 465,218.3 465.9,213.2 466.8,210.1 467.8,209.8 468.7,208.5 469.7,208.2 470.6,209 471.5,210.7 472.5,211 473.4,214 474.3,220.5 475.3,223.2 476.2,226.2 477.2,229.7 478.1,228.9 479,227.8 480,226.9 480.9,224.8 481.8,221.1 482.8,219.4 483.7,222.1 484.6,224.1 485.6,224.8 486.5,226.5 487.5,226.9 488.4,223.7 489.3,216.4 490.3,209.2 491.2,206.3 492.1,208.6 493.1,214.4 494,216.6 495,219 495.9,224.4 496.8,226.9 497.8,226.4 498.7,226.2 499.6,226 500.6,223 501.5,216.1 502.5,208.8 503.4,206.3 504.3,207.4 505.3,210.8 506.2,211.9 507.1,216 508.1,224.4 509,228.8 509.9,229.2 510.9,231 511.8,232.6 512.8,233.5 513.7,230.3 514.6,225.2 515.6,222.2 516.5,218.8 517.4,212.1 518.4,209.1 519.3,210 520.3,210.9 521.2,211.9 522.1,214.1 523.1,219.2 524,221.3 524.9,218.7 525.9,214.2 526.8,211.9 528,211.9 528.9,213.8 529.9,217.1 530.8,218.5 531.7,220.3 532.7,224.7 533.6,226.9 534.6,227.3 535.5,227.5 536.4,227.9 537.4,225.9 538.3,220.6 539.2,218.5 540.2,213.2 541.1,207.2 542.1,211 543,214.7 543.9,213.1 544.9,210.5 545.8,209.1 546.7,210.7 547.7,214.9 548.6,216.6 549.6,217.6 550.5,220.4 551.4,221.3 552.4,222.5 553.3,224.9 554.2,227.5 555.2,228.8 556.1,226.8 557,222.2 558,220.4 558.9,220 559.9,218 560.8,217.6 561.7,218.5 562.7,220.4 563.6,221.3 564.5,218.8 565.5,216.6 566.4,214.3 567.4,208.8 568.3,206.3 569.2,208.5 570.2,212.7 571.1,214.7 572,216.5 573,220.3 573.9,222.2 574.9,222.7 575.8,224.8 576.7,227.3 577.7,227.9 578.6,226.3 579.5,223.8 580.5,222.2 581.4,219.1 582.3,216.6 583.3,217.8 584.2,220 585.2,221.3 586.1,216.4 587,206.4 588,201.6 588.9,204.1 589.8,209.9 590.8,212.9 591.7,215.5 592.7,221 593.6,224.1 594.5,225.1 595.5,226.7 596.4,228.8 597.3,229.7 598.3,227.7 599.2,222.9 600.2,220.4 601.1,217.4 602,213.8 603,216.2 603.9,219.8 604.8,222.2 605.8,220.7 606.7,217.6 607.6,216.6 608.6,218.2 609.5,221 610.5,222.2 611.4,221.3 612.3,219.4 613.3,217.6 614.2,216.6 615.1,213.5 616.1,210.1 617,211.5 618,215.3 618.9,216.6 619.8,223.1 620.8,229.7 621.7,226.8 622.6,220.3 623.6,217.6 624.5,215.8 625.5,213.7 626.4,211.9 627.3,210.9 628.3,208.6 629.2,207.2 630.1,210.3 631.1,218.6 632,227 632.9,230.7 633.9,227.9 634.8,222.8 635.8,220.4 636.7,218.8 637.6,214.8 638.6,211.4 639.5,210.1 640.4,211.3 641.4,213.3 642.3,214.7 643.3,217.4 644.2,221.8 645.1,224.1 646.1,222.5 647,217.8 647.9,213.7 648.9,211.9 649.8,213.3 650.8,216 651.7,218.7 652.6,220.4" fill="none" stroke="#4244ab" stroke-width="1.4" stroke-linejoin="round" stroke-linecap="round" />
<rect x="407.3" y="200.4" width="245.7" height="133.1" fill="none" stroke="#98a4ad" stroke-width="1.2"/>
<line x1="407.3" y1="300.4" x2="653" y2="300.4" stroke="#98a4ad" stroke-width="1.4"/>
<line x1="407.3" y1="200.4" x2="409.8" y2="200.4" stroke="#98a4ad" stroke-width="1"/>
<line x1="650.5" y1="200.4" x2="653" y2="200.4" stroke="#98a4ad" stroke-width="1"/>
<line x1="407.3" y1="225.4" x2="409.8" y2="225.4" stroke="#98a4ad" stroke-width="1"/>
<line x1="650.5" y1="225.4" x2="653" y2="225.4" stroke="#98a4ad" stroke-width="1"/>
<line x1="407.3" y1="250.4" x2="409.8" y2="250.4" stroke="#98a4ad" stroke-width="1"/>
<line x1="650.5" y1="250.4" x2="653" y2="250.4" stroke="#98a4ad" stroke-width="1"/>
<line x1="407.3" y1="275.4" x2="409.8" y2="275.4" stroke="#98a4ad" stroke-width="1"/>
<line x1="650.5" y1="275.4" x2="653" y2="275.4" stroke="#98a4ad" stroke-width="1"/>
<line x1="407.3" y1="331.5" x2="407.3" y2="333.5" stroke="#98a4ad" stroke-width="1"/>
<line x1="407.3" y1="300.4" x2="407.3" y2="302.4" stroke="#98a4ad" stroke-width="1"/>
<line x1="431.9" y1="331.5" x2="431.9" y2="333.5" stroke="#98a4ad" stroke-width="1"/>
<line x1="431.9" y1="300.4" x2="431.9" y2="302.4" stroke="#98a4ad" stroke-width="1"/>
<line x1="456.4" y1="331.5" x2="456.4" y2="333.5" stroke="#98a4ad" stroke-width="1"/>
<line x1="456.4" y1="300.4" x2="456.4" y2="302.4" stroke="#98a4ad" stroke-width="1"/>
<line x1="481" y1="331.5" x2="481" y2="333.5" stroke="#98a4ad" stroke-width="1"/>
<line x1="481" y1="300.4" x2="481" y2="302.4" stroke="#98a4ad" stroke-width="1"/>
<line x1="505.6" y1="331.5" x2="505.6" y2="333.5" stroke="#98a4ad" stroke-width="1"/>
<line x1="505.6" y1="300.4" x2="505.6" y2="302.4" stroke="#98a4ad" stroke-width="1"/>
<line x1="530.1" y1="331.5" x2="530.1" y2="333.5" stroke="#98a4ad" stroke-width="1"/>
<line x1="530.1" y1="300.4" x2="530.1" y2="302.4" stroke="#98a4ad" stroke-width="1"/>
<line x1="554.7" y1="331.5" x2="554.7" y2="333.5" stroke="#98a4ad" stroke-width="1"/>
<line x1="554.7" y1="300.4" x2="554.7" y2="302.4" stroke="#98a4ad" stroke-width="1"/>
<line x1="579.3" y1="331.5" x2="579.3" y2="333.5" stroke="#98a4ad" stroke-width="1"/>
<line x1="579.3" y1="300.4" x2="579.3" y2="302.4" stroke="#98a4ad" stroke-width="1"/>
<line x1="603.9" y1="331.5" x2="603.9" y2="333.5" stroke="#98a4ad" stroke-width="1"/>
<line x1="603.9" y1="300.4" x2="603.9" y2="302.4" stroke="#98a4ad" stroke-width="1"/>
<line x1="628.4" y1="331.5" x2="628.4" y2="333.5" stroke="#98a4ad" stroke-width="1"/>
<line x1="628.4" y1="300.4" x2="628.4" y2="302.4" stroke="#98a4ad" stroke-width="1"/>
<line x1="653" y1="331.5" x2="653" y2="333.5" stroke="#98a4ad" stroke-width="1"/>
<line x1="653" y1="300.4" x2="653" y2="302.4" stroke="#98a4ad" stroke-width="1"/>
<text x="403.2" y="205.5" font-size="11" text-anchor="end" fill="#3d4146" stroke="#3d4146" stroke-width="0.4" font-weight="normal" >1</text>
<text x="403.2" y="230" font-size="11" text-anchor="end" fill="#3d4146" stroke="#3d4146" stroke-width="0.4" font-weight="normal" >0.8</text>
<text x="403.2" y="254.6" font-size="11" text-anchor="end" fill="#3d4146" stroke="#3d4146" stroke-width="0.4" font-weight="normal" >0.6</text>
<text x="403.2" y="279.9" font-size="11" text-anchor="end" fill="#3d4146" stroke="#3d4146" stroke-width="0.4" font-weight="normal" >0.4</text>
<text x="403.2" y="304.4" font-size="11" text-anchor="end" fill="#3d4146" stroke="#3d4146" stroke-width="0.4" font-weight="normal" >0.2</text>
<text x="409.4" y="346.6" font-size="11" text-anchor="middle" fill="#3d4146" stroke="#3d4146" stroke-width="0.4" font-weight="normal" >0</text>
<text x="458.4" y="346.6" font-size="11" text-anchor="middle" fill="#3d4146" stroke="#3d4146" stroke-width="0.4" font-weight="normal" >1</text>
<text x="507.4" y="346.6" font-size="11" text-anchor="middle" fill="#3d4146" stroke="#3d4146" stroke-width="0.4" font-weight="normal" >2</text>
<text x="556.4" y="346.6" font-size="11" text-anchor="middle" fill="#3d4146" stroke="#3d4146" stroke-width="0.4" font-weight="normal" >3</text>
<text x="605.4" y="346.6" font-size="11" text-anchor="middle" fill="#3d4146" stroke="#3d4146" stroke-width="0.4" font-weight="normal" >4</text>
<text x="654.4" y="346.6" font-size="11" text-anchor="middle" fill="#3d4146" stroke="#3d4146" stroke-width="0.4" font-weight="normal" >5</text>
<text transform="translate(381.8,250.2) rotate(-90)" font-size="12" text-anchor="middle" fill="#3d4146" stroke="#3d4146">Amplitude</text>
<rect x="407.3" y="470" width="245.7" height="33.5" fill="#edf4fa"/>
<rect x="411.3" y="470" width="3.4" height="33.5" fill="#c2cdd5"/>
<rect x="417.2" y="470" width="3.4" height="33.5" fill="#c2cdd5"/>
<rect x="425" y="470" width="2.4" height="33.5" fill="#c2cdd5"/>
<rect x="429.9" y="470" width="2.9" height="33.5" fill="#c2cdd5"/>
<rect x="434.7" y="470" width="6.8" height="33.5" fill="#c2cdd5"/>
<rect x="446.9" y="470" width="2.9" height="33.5" fill="#c2cdd5"/>
<rect x="456.2" y="470" width="2.4" height="33.5" fill="#c2cdd5"/>
<rect x="463" y="470" width="4.4" height="33.5" fill="#c2cdd5"/>
<rect x="468.4" y="470" width="5.4" height="33.5" fill="#c2cdd5"/>
<rect x="475.3" y="470" width="3.4" height="33.5" fill="#c2cdd5"/>
<rect x="485.1" y="470" width="6.8" height="33.5" fill="#c2cdd5"/>
<rect x="495.3" y="470" width="8.3" height="33.5" fill="#c2cdd5"/>
<rect x="510.4" y="470" width="6.8" height="33.5" fill="#c2cdd5"/>
<rect x="518.7" y="470" width="4.4" height="33.5" fill="#c2cdd5"/>
<rect x="527" y="470" width="2.4" height="33.5" fill="#c2cdd5"/>
<rect x="530.4" y="470" width="0.6" height="33.5" fill="#c2cdd5"/>
<rect x="532" y="470" width="1.9" height="33.5" fill="#c2cdd5"/>
<rect x="535.4" y="470" width="9.7" height="33.5" fill="#c2cdd5"/>
<rect x="547.1" y="470" width="2.9" height="33.5" fill="#c2cdd5"/>
<rect x="555.4" y="470" width="3.4" height="33.5" fill="#c2cdd5"/>
<rect x="560.2" y="470" width="4.9" height="33.5" fill="#c2cdd5"/>
<rect x="569.5" y="470" width="1.9" height="33.5" fill="#c2cdd5"/>
<rect x="581.7" y="470" width="7.8" height="33.5" fill="#c2cdd5"/>
<rect x="596" y="470" width="5.8" height="33.5" fill="#c2cdd5"/>
<rect x="604.7" y="470" width="9.3" height="33.5" fill="#c2cdd5"/>
<rect x="616" y="470" width="6.3" height="33.5" fill="#c2cdd5"/>
<rect x="624.2" y="470" width="4.4" height="33.5" fill="#c2cdd5"/>
<rect x="630.5" y="470" width="6.9" height="33.5" fill="#c2cdd5"/>
<rect x="641.8" y="470" width="3.4" height="33.5" fill="#c2cdd5"/>
<polyline points="407.9,391.2 408.9,384.5 409.8,377.6 410.8,386.9 411.8,397 412.8,398.6 413.7,402.7 414.7,404.8 415.7,409.1 416.6,417.9 417.6,422.2 418.6,423.1 419.5,424.1 420.5,417.7 421.5,404.8 422.4,398.9 423.4,386.4 424.4,373.8 425.3,397.8 426.3,422.2 427.3,421.7 428.3,422.2 429.2,430.9 430.2,448.9 431.2,457.1 432.1,447.9 433.1,439.6 434.1,434.4 435,430 436,420.4 437,410.6 437.9,407.4 438.9,404.8 439.9,410.3 440.9,416.4 441.8,419.8 442.8,426.3 443.8,430 444.7,434.9 445.7,444.5 446.7,449.3 447.6,458 448.6,465.8 449.6,462.9 450.5,459 451.5,449.8 452.5,432.9 453.4,424.1 454.4,415.2 455.4,396.9 456.4,387.3 457.3,390.5 458.3,393.1 459.3,400 460.2,406.7 461.2,420.4 462.2,433.8 463.1,436.6 464.1,439.6 465.1,431.7 466,424.1 467,434.1 468,443.5 469,438.1 469.9,431.9 470.9,430.4 471.9,426.3 472.8,424.1 473.8,427.8 474.8,431.9 475.7,442.8 476.7,453.2 477.7,441.8 478.6,430 479.6,419.3 480.6,408.6 481.6,406.3 482.5,401.2 483.5,398.9 484.5,407.7 485.4,416.4 486.4,437.7 487.4,435.7 488.3,433.8 489.3,441.1 490.3,449.3 491.2,440.4 492.2,431.9 493.2,425.9 494.1,420.3 495.1,419.8 496.1,418.3 497.1,415.4 498,412.5 499,401.7 500,391.2 500.9,391.9 501.9,393.8 502.9,395.1 503.8,409.5 504.8,424.1 505.8,433.5 506.7,443.5 507.7,433.3 508.7,424.1 509.7,405.1 510.6,385.4 511.6,378.1 512.6,370.8 513.5,376.1 514.5,381.5 515.5,410.6 516.4,439.6 517.4,437.5 518.4,433.5 519.3,431.9 520.3,422.7 521.3,414.4 522.2,409.4 523.2,404.8 524.2,408.4 525.2,412.5 526.1,424.4 527.1,435.8 528,453.2 529,447.4 529.9,441.6 530.9,441 531.9,439.6 532.8,434.2 533.8,424.1 534.8,418.3 535.8,421.3 536.7,424.1 537.7,422.8 538.7,422.2 539.6,425.8 540.6,430 541.6,425.2 542.5,420.3 543.5,420 544.5,417.9 545.4,417.4 546.4,423 547.4,428 548.2,443.4 548.9,459 549.9,456.5 550.9,453.2 552,433.4 553.2,414.4 554.2,418.3 555.1,426.5 556.1,430 557.1,437.5 558,445.5 559,437.5 560,430 560.9,422.7 561.9,416.4 562.9,410.7 563.9,400.2 564.8,395.1 565.8,400.1 566.8,404.8 567.7,412.2 568.7,420.3 569.9,427.9 571,435.8 571.9,432.1 572.7,425.7 573.5,422.2 574.5,414.8 575.5,399.1 576.4,391.2 577.6,398.6 578.8,406.7 579.6,412.3 580.5,423.1 581.3,428 582.1,431.8 583,438.5 583.8,442.6 585,433.7 586.1,424.1 587.1,422.1 588.1,416.7 589,414.4 590,412.6 591,409.8 592,408.6 592.9,401.9 593.9,395.1 594.9,399.3 595.8,406.8 596.8,410.6 597.6,414.4 598.5,420.5 599.3,424.1 600.5,414.3 601.6,404.8 602.8,390.5 604,375.7 604.7,383.6 605.5,391.2 606.3,400.8 607.1,410.6 608,414.6 609,418.3 610,413.3 610.9,408.6 612.1,416.9 613.3,426.1 614.2,422.6 615.2,415.4 616.2,412.5 617.1,411.4 618.1,408.7 619.1,407.7 620.1,407.4 621,407 622,406.7 623,408.4 623.9,412.5 624.9,414.4 625.9,420.7 626.8,428 627.8,423.6 628.8,418.3 629.7,415.5 630.7,412.5 631.7,413 632.7,412.1 633.6,412.5 634.6,419.4 635.6,426.1 636.5,422.4 637.5,414.3 638.5,410.6 639.4,406.8 640.4,400.1 641.4,397 642.3,397.6 643.3,400.2 644.3,400.9 645.2,403.4 646.2,409.9 647.2,412.5 648,417.8 648.9,428.5 649.7,433.8 650.9,426.2 652,418.3 653,416.4" fill="none" stroke="#82c561" stroke-width="1.6" stroke-linejoin="round" stroke-linecap="round" />
<polyline points="407.9,395.1 408.9,388.4 409.8,381.5 410.7,379.8 411.5,375.3 412.4,373.8 413.5,381.6 414.7,389.3 415.7,393.7 416.6,398 417.6,400 418.6,404.6 419.5,406.7 420.5,401.2 421.5,395.1 422.4,386.3 423.4,377.6 424.2,374.4 425,370.8 426.3,391.2 427.1,401.7 427.9,412.5 429.2,398.9 430.2,403.2 431.2,407.7 431.9,416.2 432.7,424.1 433.8,416 434.9,400.6 436,393.1 437,398.6 437.9,403.8 438.9,400.8 439.9,398 440.9,399.6 441.8,401.9 442.8,401.5 443.8,400.9 444.7,404.7 445.7,408.6 446.7,412.6 447.6,420.2 448.6,424.1 450,432.9 450.8,427.8 451.6,417.7 452.5,412.5 453.4,407.3 454.4,394.8 455.4,382.5 456.4,377.6 457.3,381.8 458.3,389.3 459.3,393.1 460.2,398.6 461.2,404.8 462.2,411.3 463.1,417.4 464.1,414.3 465.1,411.5 466,411.7 467,412.5 468,408.2 469,403.8 469.9,408.4 470.9,413.5 471.9,407.7 472.8,401.9 473.8,403.3 474.8,404.8 475.7,406.5 476.7,408.6 477.7,415.5 478.6,422.2 479.6,411.2 480.6,400.9 481.6,397.5 482.5,390.8 483.5,387.3 484.5,394.2 485.4,401.9 486.3,405.9 487.1,413.9 487.9,418.3 489.1,412.9 490.3,407.7 491.2,412.3 492.2,416.4 493.2,405.8 494.1,395.1 495.1,397.7 496.1,399.9 497.1,401.6 498,402.8 499,396.7 500,391.2 500.9,388.7 501.9,385.4 502.9,391.4 503.8,397 504.8,402.5 505.8,408.6 506.7,415.2 507.7,421.2 508.7,412.2 509.7,394.1 510.6,385.4 511.6,380.9 512.6,375.7 513.5,376.2 514.5,376.7 515.5,387.1 516.4,397 517.4,419.3 518.4,413.2 519.3,402.1 520.3,396 521.3,397.6 522.2,399.9 523.1,397.8 523.9,394 524.8,392.2 525.9,401 527.1,410.6 528,404.8 529,414 529.9,423.2 530.9,412.3 531.9,401.9 532.8,406.1 533.8,410.6 534.8,407.3 535.8,400.3 536.7,397 537.7,399.7 538.7,401.9 539.6,406.8 540.6,411.5 541.6,408.4 542.5,401.4 543.5,398 544.5,399.3 545.4,401.2 546.4,401.9 547.4,405 548.3,408.6 549.3,416.6 550.3,424.1 551.3,412.4 552.2,400.9 553.2,392.4 554.2,383.4 555.1,394.2 556.1,404.8 557.1,411.8 558,418.3 559,414.1 560,410.6 560.9,402.7 561.9,395.1 562.9,390.4 563.9,385.4 564.8,389.6 565.8,393.1 566.8,396.9 567.7,403.7 568.7,407.7 569.7,409.4 570.6,412.4 571.6,414.4 572.6,411.1 573.5,404.5 574.5,400.9 575.7,393.5 576.8,380.1 578,372.8 579.2,381.2 580.3,389.3 581.3,396.8 582.3,404.8 583.2,406.5 584.2,408.6 585.2,410 586.1,411.5 587.1,406.5 588.1,400.9 589,401.4 590,401.9 591,400.1 592,398.9 592.9,394.7 593.9,391.2 594.9,387 595.8,383.4 596.8,385.6 597.8,387.3 598.7,393.8 599.7,400.9 600.7,400 601.6,398.9 602.8,385.2 604,371.8 604.7,375.8 605.5,379.6 606.5,386.3 607.5,393.1 608.4,391.9 609.4,391.2 610.4,395.4 611.3,398.9 612.3,404.8 613.3,410.6 614.2,407.7 615.2,400.6 616.2,393.6 617.1,390.2 618.1,393.2 619.1,397 620.1,397.9 621,399.6 622,400.9 623,398.2 623.9,393.2 624.9,390.2 625.9,390.9 626.8,391.2 627.8,399.5 628.8,408.6 629.7,401.1 630.7,394.1 631.7,396.8 632.7,398.9 633.6,403 634.6,406.7 635.6,404.2 636.5,401.9 637.5,400.9 638.5,398.7 639.4,398 640.4,394.9 641.4,391.2 642.2,389.4 643.1,386.4 643.9,384.4 645.2,391.2 646.2,399 647.2,406.7 648.2,408.1 649.1,411.6 650.1,413.5 651.1,408.7 652,400 653,395.1" fill="none" stroke="#4244ab" stroke-width="1.4" stroke-linejoin="round" stroke-linecap="round" />
<rect x="407.3" y="370.1" width="245.7" height="133.4" fill="none" stroke="#98a4ad" stroke-width="1.2"/>
<line x1="407.3" y1="470" x2="653" y2="470" stroke="#98a4ad" stroke-width="1.4"/>
<line x1="407.3" y1="370" x2="409.8" y2="370" stroke="#98a4ad" stroke-width="1"/>
<line x1="650.5" y1="370" x2="653" y2="370" stroke="#98a4ad" stroke-width="1"/>
<line x1="407.3" y1="395" x2="409.8" y2="395" stroke="#98a4ad" stroke-width="1"/>
<line x1="650.5" y1="395" x2="653" y2="395" stroke="#98a4ad" stroke-width="1"/>
<line x1="407.3" y1="420" x2="409.8" y2="420" stroke="#98a4ad" stroke-width="1"/>
<line x1="650.5" y1="420" x2="653" y2="420" stroke="#98a4ad" stroke-width="1"/>
<line x1="407.3" y1="445" x2="409.8" y2="445" stroke="#98a4ad" stroke-width="1"/>
<line x1="650.5" y1="445" x2="653" y2="445" stroke="#98a4ad" stroke-width="1"/>
<line x1="407.3" y1="501.5" x2="407.3" y2="503.5" stroke="#98a4ad" stroke-width="1"/>
<line x1="407.3" y1="470" x2="407.3" y2="472" stroke="#98a4ad" stroke-width="1"/>
<line x1="431.9" y1="501.5" x2="431.9" y2="503.5" stroke="#98a4ad" stroke-width="1"/>
<line x1="431.9" y1="470" x2="431.9" y2="472" stroke="#98a4ad" stroke-width="1"/>
<line x1="456.4" y1="501.5" x2="456.4" y2="503.5" stroke="#98a4ad" stroke-width="1"/>
<line x1="456.4" y1="470" x2="456.4" y2="472" stroke="#98a4ad" stroke-width="1"/>
<line x1="481" y1="501.5" x2="481" y2="503.5" stroke="#98a4ad" stroke-width="1"/>
<line x1="481" y1="470" x2="481" y2="472" stroke="#98a4ad" stroke-width="1"/>
<line x1="505.6" y1="501.5" x2="505.6" y2="503.5" stroke="#98a4ad" stroke-width="1"/>
<line x1="505.6" y1="470" x2="505.6" y2="472" stroke="#98a4ad" stroke-width="1"/>
<line x1="530.1" y1="501.5" x2="530.1" y2="503.5" stroke="#98a4ad" stroke-width="1"/>
<line x1="530.1" y1="470" x2="530.1" y2="472" stroke="#98a4ad" stroke-width="1"/>
<line x1="554.7" y1="501.5" x2="554.7" y2="503.5" stroke="#98a4ad" stroke-width="1"/>
<line x1="554.7" y1="470" x2="554.7" y2="472" stroke="#98a4ad" stroke-width="1"/>
<line x1="579.3" y1="501.5" x2="579.3" y2="503.5" stroke="#98a4ad" stroke-width="1"/>
<line x1="579.3" y1="470" x2="579.3" y2="472" stroke="#98a4ad" stroke-width="1"/>
<line x1="603.9" y1="501.5" x2="603.9" y2="503.5" stroke="#98a4ad" stroke-width="1"/>
<line x1="603.9" y1="470" x2="603.9" y2="472" stroke="#98a4ad" stroke-width="1"/>
<line x1="628.4" y1="501.5" x2="628.4" y2="503.5" stroke="#98a4ad" stroke-width="1"/>
<line x1="628.4" y1="470" x2="628.4" y2="472" stroke="#98a4ad" stroke-width="1"/>
<line x1="653" y1="501.5" x2="653" y2="503.5" stroke="#98a4ad" stroke-width="1"/>
<line x1="653" y1="470" x2="653" y2="472" stroke="#98a4ad" stroke-width="1"/>
<text x="403.2" y="377.1" font-size="11" text-anchor="end" fill="#3d4146" stroke="#3d4146" stroke-width="0.4" font-weight="normal" >1</text>
<text x="403.2" y="401.8" font-size="11" text-anchor="end" fill="#3d4146" stroke="#3d4146" stroke-width="0.4" font-weight="normal" >0.8</text>
<text x="403.2" y="426.3" font-size="11" text-anchor="end" fill="#3d4146" stroke="#3d4146" stroke-width="0.4" font-weight="normal" >0.6</text>
<text x="403.2" y="451.4" font-size="11" text-anchor="end" fill="#3d4146" stroke="#3d4146" stroke-width="0.4" font-weight="normal" >0.4</text>
<text x="403.2" y="475.1" font-size="11" text-anchor="end" fill="#3d4146" stroke="#3d4146" stroke-width="0.4" font-weight="normal" >0.2</text>
<text x="409.9" y="516.2" font-size="11" text-anchor="middle" fill="#3d4146" stroke="#3d4146" stroke-width="0.4" font-weight="normal" >0</text>
<text x="458.8" y="516.2" font-size="11" text-anchor="middle" fill="#3d4146" stroke="#3d4146" stroke-width="0.4" font-weight="normal" >1</text>
<text x="507.7" y="516.2" font-size="11" text-anchor="middle" fill="#3d4146" stroke="#3d4146" stroke-width="0.4" font-weight="normal" >2</text>
<text x="556.6" y="516.2" font-size="11" text-anchor="middle" fill="#3d4146" stroke="#3d4146" stroke-width="0.4" font-weight="normal" >3</text>
<text x="605.5" y="516.2" font-size="11" text-anchor="middle" fill="#3d4146" stroke="#3d4146" stroke-width="0.4" font-weight="normal" >4</text>
<text x="654.4" y="516.2" font-size="11" text-anchor="middle" fill="#3d4146" stroke="#3d4146" stroke-width="0.4" font-weight="normal" >5</text>
<text transform="translate(381.8,420.8) rotate(-90)" font-size="12" text-anchor="middle" fill="#3d4146" stroke="#3d4146">Amplitude</text>
<text x="532" y="530.8" font-size="12.5" text-anchor="middle" fill="#3d4146" stroke="#3d4146" stroke-width="0.4" font-weight="normal" >time (s)</text>
</svg></body></html>
